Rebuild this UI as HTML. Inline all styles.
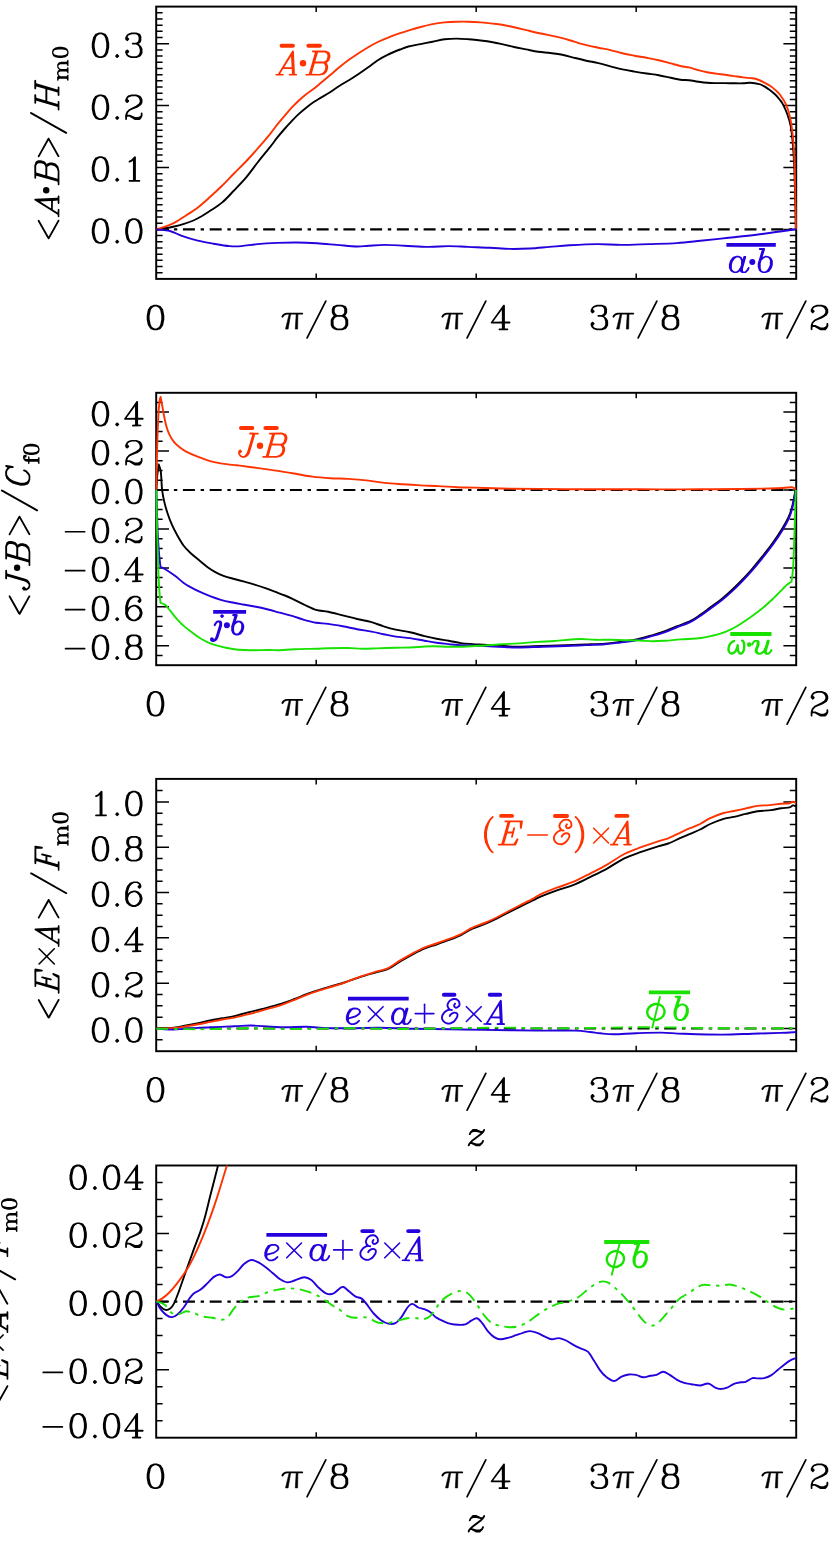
<!DOCTYPE html>
<html><head><meta charset="utf-8"><title>fig</title>
<style>html,body{margin:0;padding:0;background:#fff}svg{display:block}</style></head>
<body><svg width="830" height="1545" viewBox="0 0 830 1545" font-family="Liberation Serif, serif">
<rect width="830" height="1545" fill="#fff"/>
<defs>
<clipPath id="c1"><rect x="156.20" y="6.60" width="640.00" height="272.30"/></clipPath>
<clipPath id="c2"><rect x="156.20" y="392.80" width="640.00" height="272.40"/></clipPath>
<clipPath id="c3"><rect x="156.20" y="778.90" width="640.00" height="272.30"/></clipPath>
<clipPath id="c4"><rect x="156.20" y="1165.50" width="640.00" height="272.20"/></clipPath>
</defs>
<path d="M156.20,272.73h6.40M796.20,272.73h-6.40M156.20,266.54h6.40M796.20,266.54h-6.40M156.20,260.35h6.40M796.20,260.35h-6.40M156.20,254.16h6.40M796.20,254.16h-6.40M156.20,247.97h6.40M796.20,247.97h-6.40M156.20,241.78h6.40M796.20,241.78h-6.40M156.20,235.59h6.40M796.20,235.59h-6.40M156.20,229.40h12.80M796.20,229.40h-12.80M156.20,223.21h6.40M796.20,223.21h-6.40M156.20,217.02h6.40M796.20,217.02h-6.40M156.20,210.83h6.40M796.20,210.83h-6.40M156.20,204.64h6.40M796.20,204.64h-6.40M156.20,198.45h6.40M796.20,198.45h-6.40M156.20,192.26h6.40M796.20,192.26h-6.40M156.20,186.07h6.40M796.20,186.07h-6.40M156.20,179.88h6.40M796.20,179.88h-6.40M156.20,173.69h6.40M796.20,173.69h-6.40M156.20,167.50h12.80M796.20,167.50h-12.80M156.20,161.31h6.40M796.20,161.31h-6.40M156.20,155.12h6.40M796.20,155.12h-6.40M156.20,148.93h6.40M796.20,148.93h-6.40M156.20,142.74h6.40M796.20,142.74h-6.40M156.20,136.55h6.40M796.20,136.55h-6.40M156.20,130.36h6.40M796.20,130.36h-6.40M156.20,124.17h6.40M796.20,124.17h-6.40M156.20,117.98h6.40M796.20,117.98h-6.40M156.20,111.79h6.40M796.20,111.79h-6.40M156.20,105.60h12.80M796.20,105.60h-12.80M156.20,99.41h6.40M796.20,99.41h-6.40M156.20,93.22h6.40M796.20,93.22h-6.40M156.20,87.03h6.40M796.20,87.03h-6.40M156.20,80.84h6.40M796.20,80.84h-6.40M156.20,74.65h6.40M796.20,74.65h-6.40M156.20,68.46h6.40M796.20,68.46h-6.40M156.20,62.27h6.40M796.20,62.27h-6.40M156.20,56.08h6.40M796.20,56.08h-6.40M156.20,49.89h6.40M796.20,49.89h-6.40M156.20,43.70h12.80M796.20,43.70h-12.80M156.20,37.51h6.40M796.20,37.51h-6.40M156.20,31.32h6.40M796.20,31.32h-6.40M156.20,25.13h6.40M796.20,25.13h-6.40M156.20,18.94h6.40M796.20,18.94h-6.40M156.20,12.75h6.40M796.20,12.75h-6.40M316.20,6.60v5.5M316.20,278.90v-5.5M476.20,6.60v5.5M476.20,278.90v-5.5M636.20,6.60v5.5M636.20,278.90v-5.5" stroke="#000" stroke-width="1.5" fill="none"/>
<rect x="156.20" y="6.60" width="640.00" height="272.30" fill="none" stroke="#000" stroke-width="1.95"/>
<path d="M156.20,229.40H796.20" stroke="#000" stroke-width="2.1" stroke-dasharray="12 5.7 3.4 5.64" fill="none"/>
<path d="M156.50,229.50C157.92,229.30 162.07,228.80 165.00,228.30C167.93,227.80 170.93,227.25 174.10,226.50C177.27,225.75 180.78,224.80 184.00,223.80C187.22,222.80 190.40,221.80 193.40,220.50C196.40,219.20 199.20,217.62 202.00,216.00C204.80,214.38 206.82,213.07 210.20,210.80C213.58,208.53 218.33,205.78 222.30,202.40C226.27,199.02 229.98,194.72 234.00,190.50C238.02,186.28 242.40,181.85 246.40,177.10C250.40,172.35 254.07,167.00 258.00,162.00C261.93,157.00 266.80,151.15 270.00,147.10C273.20,143.05 274.78,140.72 277.20,137.70C279.62,134.68 282.08,131.77 284.50,129.00C286.92,126.23 289.30,123.62 291.70,121.10C294.10,118.58 296.48,116.13 298.90,113.90C301.32,111.67 303.78,109.63 306.20,107.70C308.62,105.77 311.00,103.93 313.40,102.30C315.80,100.67 317.90,99.53 320.60,97.90C323.30,96.27 326.48,94.48 329.60,92.50C332.72,90.52 336.08,88.05 339.30,86.00C342.52,83.95 345.68,82.20 348.90,80.20C352.12,78.20 355.38,76.15 358.60,74.00C361.82,71.85 365.00,69.60 368.20,67.30C371.40,65.00 374.58,62.28 377.80,60.20C381.02,58.12 383.80,56.58 387.50,54.80C391.20,53.02 396.52,50.88 400.00,49.50C403.48,48.12 404.98,47.40 408.40,46.50C411.82,45.60 416.48,44.90 420.50,44.10C424.52,43.30 428.48,42.50 432.50,41.70C436.52,40.90 440.58,39.82 444.60,39.30C448.62,38.78 452.58,38.60 456.60,38.60C460.62,38.60 464.68,38.98 468.70,39.30C472.72,39.62 476.68,40.02 480.70,40.50C484.72,40.98 489.25,41.60 492.80,42.20C496.35,42.80 498.45,43.30 502.00,44.10C505.55,44.90 510.08,46.12 514.10,47.00C518.12,47.88 522.08,48.60 526.10,49.40C530.12,50.20 534.18,51.20 538.20,51.80C542.22,52.40 546.18,52.52 550.20,53.00C554.22,53.48 558.28,53.90 562.30,54.70C566.32,55.50 570.28,56.80 574.30,57.80C578.32,58.80 582.38,59.82 586.40,60.70C590.42,61.58 594.38,62.17 598.40,63.10C602.42,64.03 606.48,65.25 610.50,66.30C614.52,67.35 618.48,68.52 622.50,69.40C626.52,70.28 630.58,70.92 634.60,71.60C638.62,72.28 642.58,72.90 646.60,73.50C650.62,74.10 654.68,74.48 658.70,75.20C662.72,75.92 667.08,77.03 670.70,77.80C674.32,78.57 677.35,79.40 680.40,79.80C683.45,80.20 686.05,79.88 689.00,80.20C691.95,80.52 695.08,81.27 698.10,81.70C701.12,82.13 704.10,82.57 707.10,82.80C710.10,83.03 713.08,83.05 716.10,83.10C719.12,83.15 722.18,83.07 725.20,83.10C728.22,83.13 731.18,83.27 734.20,83.30C737.22,83.33 740.60,83.38 743.30,83.30C746.00,83.22 747.73,82.65 750.40,82.80C753.07,82.95 757.03,83.63 759.30,84.20C761.57,84.77 762.50,85.40 764.00,86.20C765.50,87.00 766.97,88.07 768.30,89.00C769.63,89.93 770.77,90.80 772.00,91.80C773.23,92.80 774.43,93.72 775.70,95.00C776.97,96.28 778.37,97.90 779.60,99.50C780.83,101.10 781.77,102.02 783.10,104.60C784.43,107.18 786.35,111.52 787.60,115.00C788.85,118.48 789.73,120.78 790.60,125.50C791.47,130.22 792.18,136.37 792.80,143.30C793.42,150.23 793.88,157.43 794.30,167.10C794.72,176.77 795.05,190.93 795.30,201.30C795.55,211.67 795.72,224.63 795.80,229.30" fill="none" stroke="#000" stroke-width="1.90" stroke-linejoin="round" stroke-linecap="butt"/>
<path d="M156.50,229.50C157.92,229.02 162.07,227.70 165.00,226.60C167.93,225.50 170.60,224.75 174.10,222.90C177.60,221.05 181.98,218.12 186.00,215.50C190.02,212.88 194.20,210.28 198.20,207.20C202.20,204.12 205.98,200.62 210.00,197.00C214.02,193.38 218.30,189.42 222.30,185.50C226.30,181.58 229.98,177.58 234.00,173.50C238.02,169.42 242.40,165.22 246.40,161.00C250.40,156.78 254.07,152.68 258.00,148.20C261.93,143.72 266.80,138.02 270.00,134.10C273.20,130.18 274.78,127.72 277.20,124.70C279.62,121.68 282.08,118.83 284.50,116.00C286.92,113.17 289.30,110.28 291.70,107.70C294.10,105.12 296.48,102.73 298.90,100.50C301.32,98.27 303.90,96.12 306.20,94.30C308.50,92.48 310.40,91.38 312.70,89.60C315.00,87.82 317.18,85.93 320.00,83.60C322.82,81.27 326.38,78.32 329.60,75.60C332.82,72.88 336.08,69.93 339.30,67.30C342.52,64.67 345.68,62.15 348.90,59.80C352.12,57.45 355.38,55.30 358.60,53.20C361.82,51.10 365.00,49.07 368.20,47.20C371.40,45.33 374.58,43.57 377.80,42.00C381.02,40.43 383.80,39.27 387.50,37.80C391.20,36.33 396.52,34.40 400.00,33.20C403.48,32.00 404.98,31.63 408.40,30.60C411.82,29.57 416.48,28.08 420.50,27.00C424.52,25.92 428.48,24.87 432.50,24.10C436.52,23.33 440.58,22.80 444.60,22.40C448.62,22.00 452.58,21.82 456.60,21.70C460.62,21.58 464.68,21.58 468.70,21.70C472.72,21.82 476.68,22.08 480.70,22.40C484.72,22.72 489.25,23.20 492.80,23.60C496.35,24.00 498.45,24.20 502.00,24.80C505.55,25.40 510.08,26.32 514.10,27.20C518.12,28.08 522.08,29.13 526.10,30.10C530.12,31.07 534.18,32.12 538.20,33.00C542.22,33.88 546.18,34.55 550.20,35.40C554.22,36.25 558.28,37.05 562.30,38.10C566.32,39.15 570.28,40.53 574.30,41.70C578.32,42.87 582.38,44.10 586.40,45.10C590.42,46.10 594.38,46.87 598.40,47.70C602.42,48.53 606.48,49.17 610.50,50.10C614.52,51.03 618.48,52.37 622.50,53.30C626.52,54.23 630.58,54.95 634.60,55.70C638.62,56.45 642.58,57.05 646.60,57.80C650.62,58.55 654.68,59.27 658.70,60.20C662.72,61.13 666.68,62.35 670.70,63.40C674.72,64.45 679.75,65.83 682.80,66.50C685.85,67.17 686.45,66.80 689.00,67.40C691.55,68.00 695.08,69.28 698.10,70.10C701.12,70.92 704.10,71.72 707.10,72.30C710.10,72.88 713.08,73.18 716.10,73.60C719.12,74.02 722.18,74.38 725.20,74.80C728.22,75.22 731.18,75.67 734.20,76.10C737.22,76.53 740.28,77.03 743.30,77.40C746.32,77.77 749.90,77.95 752.30,78.30C754.70,78.65 755.78,78.83 757.70,79.50C759.62,80.17 761.68,81.22 763.80,82.30C765.92,83.38 768.40,84.65 770.40,86.00C772.40,87.35 774.17,88.90 775.80,90.40C777.43,91.90 778.48,92.63 780.20,95.00C781.92,97.37 784.50,101.02 786.10,104.60C787.70,108.18 788.80,112.28 789.80,116.50C790.80,120.72 791.42,124.43 792.10,129.90C792.78,135.37 793.47,143.10 793.90,149.30C794.33,155.50 794.47,159.67 794.70,167.10C794.93,174.53 795.10,183.53 795.30,193.90C795.50,204.27 795.80,223.40 795.90,229.30" fill="none" stroke="#ff3300" stroke-width="1.90" stroke-linejoin="round" stroke-linecap="butt"/>
<path d="M156.50,229.40C158.73,229.67 165.68,229.93 169.90,231.00C174.12,232.07 177.17,234.20 181.80,235.80C186.43,237.40 192.40,239.28 197.70,240.60C203.00,241.92 208.30,242.78 213.60,243.70C218.90,244.62 224.85,245.70 229.50,246.10C234.15,246.50 236.85,246.43 241.50,246.10C246.15,245.77 251.45,244.63 257.40,244.10C263.35,243.57 270.58,243.17 277.20,242.90C283.82,242.63 290.47,242.43 297.10,242.50C303.73,242.57 310.37,242.90 317.00,243.30C323.63,243.70 330.27,244.37 336.90,244.90C343.53,245.43 351.50,246.37 356.80,246.50C362.10,246.63 364.07,245.97 368.70,245.70C373.33,245.43 378.63,244.90 384.60,244.90C390.57,244.90 397.22,245.37 404.50,245.70C411.78,246.03 421.02,246.83 428.30,246.90C435.58,246.97 441.57,246.10 448.20,246.10C454.83,246.10 461.15,246.63 468.10,246.90C475.05,247.17 482.95,247.37 489.90,247.70C496.85,248.03 503.18,248.77 509.80,248.90C516.42,249.03 522.98,248.83 529.60,248.50C536.22,248.17 542.87,247.43 549.50,246.90C556.13,246.37 561.45,245.77 569.40,245.30C577.35,244.83 588.58,244.17 597.20,244.10C605.82,244.03 612.48,244.90 621.10,244.90C629.72,244.90 639.62,244.40 648.90,244.10C658.18,243.80 668.18,243.65 676.80,243.10C685.42,242.55 691.98,241.68 700.60,240.80C709.22,239.92 719.22,238.82 728.50,237.80C737.78,236.78 747.70,235.75 756.30,234.70C764.90,233.65 773.48,232.40 780.10,231.50C786.72,230.60 793.35,229.67 796.00,229.30" fill="none" stroke="#2600dd" stroke-width="1.90" stroke-linejoin="round" stroke-linecap="butt"/>
<path d="M116.4,239.7 114.8,241.4 114.8,242.1 116.3,243.6 117.0,243.7 118.8,242.1 118.8,241.4 117.2,239.7ZM132.2,218.2 128.4,219.7 126.2,223.1 124.9,229.0 124.9,233.0 126.2,238.9 128.4,242.2 129.2,242.7 132.2,243.7 135.3,243.7 138.9,242.4 141.4,238.6 142.5,233.1 142.5,228.9 141.3,223.1 139.0,219.7 135.3,218.2ZM132.9,220.0 134.9,220.1 136.4,220.9 137.5,222.0 138.7,224.4 139.7,229.5 139.7,232.5 138.4,238.4 137.7,239.9 136.4,241.1 134.7,242.0 132.5,241.9 131.0,241.1 129.9,240.0 128.9,238.0 127.9,233.1 127.9,228.9 128.9,224.0 129.9,222.0 130.9,221.0ZM98.3,218.2 94.5,219.7 92.3,223.1 91.0,228.9 91.0,233.1 92.2,238.6 94.4,242.1 95.3,242.7 98.3,243.7 101.4,243.7 104.4,242.7 105.2,242.2 107.4,238.9 108.7,233.0 108.7,229.0 107.4,223.1 105.2,219.7 104.7,219.4 101.3,218.2ZM99.0,220.0 100.7,220.0 102.7,221.0 103.7,222.0 104.7,224.0 105.7,228.9 105.7,233.1 104.7,238.0 103.7,240.0 102.5,241.1 100.7,242.0 98.9,242.0 97.2,241.1 95.9,239.9 94.9,237.6 93.9,232.5 93.9,229.5 95.2,223.6 96.0,222.0 97.2,220.9Z" fill="#000" fill-rule="evenodd" transform="translate(142.60,0) scale(0.985,1) translate(-142.60,0)"/>
<path d="M116.4,177.8 114.8,179.5 114.8,180.2 116.3,181.7 117.0,181.8 118.8,180.2 118.8,179.5 117.2,177.8ZM135.0,156.3 134.2,156.6 131.0,159.8 128.9,160.8 128.3,161.7 128.7,162.5 129.7,162.6 131.9,161.5 132.7,160.7 132.8,160.8 132.8,180.0 128.9,180.1 128.3,180.8 128.9,181.8 139.7,181.8 140.3,181.1 140.2,180.5 139.7,180.1 135.8,180.0 135.8,157.1ZM98.3,156.3 94.5,157.8 92.3,161.2 91.0,167.0 91.0,171.2 92.2,176.7 94.4,180.2 95.3,180.8 98.3,181.8 101.4,181.8 104.4,180.8 105.2,180.3 107.4,177.0 108.7,171.1 108.7,167.1 107.4,161.2 105.2,157.8 104.7,157.5 101.3,156.3ZM99.0,158.1 100.7,158.1 102.7,159.1 103.7,160.1 104.7,162.1 105.7,167.0 105.7,171.2 104.7,176.1 103.7,178.1 102.5,179.2 100.7,180.1 98.9,180.1 97.2,179.2 95.9,178.0 94.9,175.7 93.9,170.6 93.9,167.6 95.2,161.7 96.0,160.1 97.2,159.0Z" fill="#000" fill-rule="evenodd" transform="translate(142.60,0) scale(0.985,1) translate(-142.60,0)"/>
<path d="M116.4,115.9 114.8,117.6 114.8,118.3 116.3,119.8 117.0,119.9 118.8,118.3 118.8,117.6 117.2,115.9ZM127.8,95.6 126.3,96.9 124.9,99.7 125.0,101.4 126.5,102.9 126.9,103.1 127.5,102.8 128.9,101.4 129.0,100.9 128.8,100.3 127.3,98.9 127.7,98.2 128.7,97.2 131.8,96.2 135.7,96.2 137.5,97.1 138.8,98.3 139.5,99.8 139.7,101.8 138.8,103.6 135.7,105.8 128.8,109.2 126.2,111.8 124.9,115.3 125.0,119.6 125.5,119.9 126.0,119.9 126.7,119.4 126.8,117.1 127.2,116.7 128.9,116.6 134.7,119.9 139.7,119.9 141.4,118.3 142.5,116.1 142.5,113.2 142.0,112.6 141.3,112.6 140.8,113.1 140.7,115.4 139.8,116.2 138.0,117.1 135.0,117.1 129.7,114.8 127.3,114.8 127.2,114.4 127.8,112.7 129.7,110.8 132.4,109.4 137.7,107.4 140.8,105.3 141.4,104.7 142.5,102.4 142.5,99.6 141.3,97.1 140.0,95.8 136.4,94.4 131.2,94.4ZM98.3,94.4 94.5,95.9 92.3,99.3 91.0,105.1 91.0,109.3 92.2,114.8 94.4,118.3 95.3,118.9 98.3,119.9 101.4,119.9 104.4,118.9 105.2,118.4 107.4,115.1 108.7,109.2 108.7,105.2 107.4,99.3 105.2,95.9 104.7,95.6 101.3,94.4ZM99.0,96.2 100.7,96.2 102.7,97.2 103.7,98.2 104.7,100.2 105.7,105.1 105.7,109.3 104.7,114.2 103.7,116.2 102.5,117.3 100.7,118.2 98.9,118.2 97.2,117.3 95.9,116.1 94.9,113.8 93.9,108.7 93.9,105.7 95.2,99.8 96.0,98.2 97.2,97.1Z" fill="#000" fill-rule="evenodd" transform="translate(142.60,0) scale(0.985,1) translate(-142.60,0)"/>
<path d="M116.4,54.0 114.8,55.7 114.8,56.4 116.3,57.9 117.0,58.0 118.8,56.4 118.8,55.7 117.2,54.0ZM131.2,32.5 127.8,33.7 126.3,35.0 124.9,37.8 125.0,39.5 126.9,41.2 127.5,40.9 128.9,39.5 129.0,39.0 128.8,38.4 127.3,37.0 127.7,36.3 128.7,35.3 131.8,34.3 135.7,34.3 137.3,35.0 137.8,35.5 138.5,37.2 138.5,39.9 137.7,41.7 135.9,42.7 132.5,42.7 131.8,43.2 131.7,43.7 131.8,44.0 132.5,44.5 135.9,44.5 137.7,45.4 138.7,46.4 139.7,49.5 139.7,52.3 138.4,54.7 137.5,55.4 135.8,56.3 131.7,56.3 128.7,55.3 127.5,54.2 127.3,53.5 128.8,52.2 129.0,51.5 128.9,51.0 127.3,49.5 126.4,49.7 125.0,51.0 124.9,52.8 126.2,55.4 128.0,57.0 131.0,58.0 136.4,58.0 139.9,56.8 141.4,55.3 142.5,53.0 142.5,48.9 141.2,46.3 138.5,43.8 139.8,43.3 140.3,42.8 141.3,40.8 141.4,36.7 140.2,34.0 139.7,33.7 136.4,32.5ZM98.3,32.5 94.5,34.0 92.3,37.4 91.0,43.2 91.0,47.4 92.2,52.9 94.4,56.4 95.3,57.0 98.3,58.0 101.4,58.0 104.4,57.0 105.2,56.5 107.4,53.2 108.7,47.3 108.7,43.3 107.4,37.4 105.2,34.0 104.7,33.7 101.3,32.5ZM99.0,34.3 100.7,34.3 102.7,35.3 103.7,36.3 104.7,38.3 105.7,43.2 105.7,47.4 104.7,52.3 103.7,54.3 102.5,55.4 100.7,56.3 98.9,56.3 97.2,55.4 95.9,54.2 94.9,51.9 93.9,46.8 93.9,43.8 95.2,37.9 96.0,36.3 97.2,35.2Z" fill="#000" fill-rule="evenodd" transform="translate(142.60,0) scale(0.985,1) translate(-142.60,0)"/>
<path d="M153.9,304.7 150.2,306.2 147.9,309.6 146.7,315.4 146.7,319.6 147.8,325.1 150.1,328.6 150.9,329.2 153.9,330.2 157.1,330.2 160.1,329.2 160.8,328.7 163.1,325.4 164.3,319.5 164.3,315.5 163.1,309.6 160.8,306.2 160.3,305.9 156.9,304.7ZM154.7,306.5 156.3,306.5 158.3,307.5 159.3,308.5 160.3,310.5 161.3,315.4 161.3,319.6 160.3,324.5 159.3,326.5 158.2,327.6 156.3,328.5 154.6,328.5 152.8,327.6 151.6,326.4 150.6,324.1 149.6,319.0 149.6,316.0 150.8,310.1 151.7,308.5 152.8,307.4Z" fill="#000" fill-rule="evenodd"/>
<path d="M282.40,316.70 c0.9,-2 2.4,-3.1 4.6,-3.1 h15.2" fill="none" stroke="#000" stroke-width="1.9" stroke-linecap="round"/><path d="M289.20,313.90 l1.5,0 l-2.6,15.2 l-2.6,0 z" fill="#000" stroke="#000" stroke-width="0.6" stroke-linejoin="round"/><path d="M296.20,313.90 l1.7,0 l-0.3,15.2 l-2.3,0 z" fill="#000" stroke="#000" stroke-width="0.6" stroke-linejoin="round"/>
<path d="M325.80,301.10L307.10,337.90" stroke="#000" stroke-width="1.75" stroke-linecap="round" fill="none"/>
<path d="M336.8,304.7 333.0,306.2 331.8,308.9 331.8,312.6 332.9,315.0 334.0,315.9 333.4,316.1 332.0,317.4 330.7,320.0 330.7,325.2 331.8,327.5 333.8,329.2 336.8,330.2 342.2,330.2 345.8,328.9 347.0,327.6 348.3,325.0 348.2,319.9 347.0,317.6 345.5,316.1 344.9,315.9 345.9,315.1 347.2,312.5 347.2,308.9 346.0,306.5 345.4,305.9 342.0,304.7ZM337.3,316.7 341.7,316.7 343.4,317.6 344.4,318.6 345.3,320.4 345.3,324.7 344.4,326.5 343.3,327.6 341.8,328.4 337.4,328.5 335.7,327.6 334.4,326.4 333.7,324.9 333.5,320.6 334.5,318.6 335.5,317.6ZM335.4,307.7 335.9,307.2 337.5,306.5 341.4,306.5 343.0,307.2 344.2,309.1 344.2,312.4 343.4,313.9 341.7,314.9 337.3,314.9 335.8,314.1 334.7,312.1 334.7,309.4Z" fill="#000" fill-rule="evenodd"/>
<path d="M442.40,316.70 c0.9,-2 2.4,-3.1 4.6,-3.1 h15.2" fill="none" stroke="#000" stroke-width="1.9" stroke-linecap="round"/><path d="M449.20,313.90 l1.5,0 l-2.6,15.2 l-2.6,0 z" fill="#000" stroke="#000" stroke-width="0.6" stroke-linejoin="round"/><path d="M456.20,313.90 l1.7,0 l-0.3,15.2 l-2.3,0 z" fill="#000" stroke="#000" stroke-width="0.6" stroke-linejoin="round"/>
<path d="M485.80,301.10L467.10,337.90" stroke="#000" stroke-width="1.75" stroke-linecap="round" fill="none"/>
<path d="M504.3,304.7 503.7,304.7 503.2,305.1 490.7,322.4 490.8,323.1 491.4,323.5 501.8,323.5 501.9,328.4 499.2,328.5 498.8,328.7 498.5,329.5 499.2,330.2 507.7,330.2 508.3,329.5 508.0,328.7 507.7,328.5 504.9,328.4 504.9,323.6 509.8,323.5 510.5,322.7 510.4,322.1 509.7,321.6 504.9,321.6 504.9,305.5ZM501.8,310.1 501.9,321.6 493.5,321.7 493.4,321.5Z" fill="#000" fill-rule="evenodd"/>
<path d="M596.9,304.7 593.5,305.9 591.9,307.4 590.6,309.9 590.6,311.5 591.7,312.9 592.6,313.4 593.2,313.1 594.5,311.9 594.6,310.9 593.0,309.2 593.2,308.6 594.4,307.5 597.5,306.5 601.4,306.5 603.0,307.2 604.1,309.1 604.1,312.4 603.4,313.9 601.6,314.9 598.2,314.9 597.5,315.4 597.4,315.9 597.5,316.2 598.2,316.7 601.6,316.7 603.4,317.6 604.2,318.5 605.2,321.4 605.2,324.7 604.4,326.5 603.2,327.6 601.4,328.5 597.4,328.5 594.1,327.4 593.0,325.7 594.6,324.1 594.6,323.4 593.0,321.7 592.2,321.7 590.7,323.2 590.6,325.2 591.7,327.5 593.7,329.2 596.7,330.2 602.1,330.2 605.7,328.9 607.0,327.6 608.2,325.0 608.1,321.0 607.0,318.7 604.2,316.0 605.9,315.1 607.0,312.9 607.1,308.9 606.0,306.5 605.4,305.9 602.0,304.7Z" fill="#000" fill-rule="evenodd"/>
<path d="M613.45,316.70 c0.9,-2 2.4,-3.1 4.6,-3.1 h15.2" fill="none" stroke="#000" stroke-width="1.9" stroke-linecap="round"/><path d="M620.25,313.90 l1.5,0 l-2.6,15.2 l-2.6,0 z" fill="#000" stroke="#000" stroke-width="0.6" stroke-linejoin="round"/><path d="M627.25,313.90 l1.7,0 l-0.3,15.2 l-2.3,0 z" fill="#000" stroke="#000" stroke-width="0.6" stroke-linejoin="round"/>
<path d="M656.85,301.10L638.15,337.90" stroke="#000" stroke-width="1.75" stroke-linecap="round" fill="none"/>
<path d="M667.8,304.7 664.1,306.2 662.8,308.9 662.8,312.6 664.0,315.0 665.1,315.9 664.5,316.1 663.1,317.4 661.7,320.0 661.7,325.2 662.8,327.5 664.8,329.2 667.8,330.2 673.2,330.2 676.8,328.9 678.1,327.6 679.3,325.0 679.2,319.9 678.1,317.6 676.6,316.1 676.0,315.9 677.0,315.1 678.2,312.5 678.2,308.9 677.1,306.5 676.5,305.9 673.1,304.7ZM668.3,316.7 672.7,316.7 674.5,317.6 675.5,318.6 676.3,320.4 676.3,324.7 675.5,326.5 674.3,327.6 672.8,328.4 668.5,328.5 666.7,327.6 665.5,326.4 664.7,324.9 664.6,320.6 665.6,318.6 666.6,317.6ZM666.5,307.7 667.0,307.2 668.6,306.5 672.5,306.5 674.1,307.2 675.2,309.1 675.2,312.4 674.5,313.9 672.7,314.9 668.3,314.9 666.8,314.1 665.7,312.1 665.7,309.4Z" fill="#000" fill-rule="evenodd"/>
<path d="M762.40,316.70 c0.9,-2 2.4,-3.1 4.6,-3.1 h15.2" fill="none" stroke="#000" stroke-width="1.9" stroke-linecap="round"/><path d="M769.20,313.90 l1.5,0 l-2.6,15.2 l-2.6,0 z" fill="#000" stroke="#000" stroke-width="0.6" stroke-linejoin="round"/><path d="M776.20,313.90 l1.7,0 l-0.3,15.2 l-2.3,0 z" fill="#000" stroke="#000" stroke-width="0.6" stroke-linejoin="round"/>
<path d="M805.80,301.10L787.10,337.90" stroke="#000" stroke-width="1.75" stroke-linecap="round" fill="none"/>
<path d="M813.5,305.9 811.9,307.4 810.7,309.9 810.7,311.5 812.3,313.2 812.7,313.4 813.3,313.1 814.7,311.6 814.7,310.9 813.0,309.2 813.3,308.6 814.4,307.5 817.5,306.5 821.4,306.5 823.4,307.5 824.4,308.5 825.3,310.2 825.3,312.4 824.0,314.4 821.2,316.2 814.5,319.5 811.8,322.2 810.7,325.6 810.7,329.6 811.3,330.2 812.0,330.1 812.4,329.7 812.4,327.5 813.0,326.9 814.7,326.9 820.3,330.2 825.4,330.2 827.0,328.7 828.3,326.2 828.3,323.6 827.7,322.9 827.0,322.9 826.5,323.4 826.4,325.6 825.5,326.5 823.7,327.4 820.8,327.4 815.4,325.1 813.0,325.1 812.9,324.6 813.4,323.1 815.5,321.0 822.8,318.0 826.5,315.6 827.0,315.1 828.3,312.5 828.2,309.6 826.9,307.2 825.8,306.1 822.0,304.7 816.9,304.7Z" fill="#000" fill-rule="evenodd"/>
<path d="M156.20,655.50h6.40M796.20,655.50h-6.40M156.20,645.76h12.80M796.20,645.76h-12.80M156.20,636.02h6.40M796.20,636.02h-6.40M156.20,626.29h6.40M796.20,626.29h-6.40M156.20,616.55h6.40M796.20,616.55h-6.40M156.20,606.82h12.80M796.20,606.82h-12.80M156.20,597.09h6.40M796.20,597.09h-6.40M156.20,587.35h6.40M796.20,587.35h-6.40M156.20,577.62h6.40M796.20,577.62h-6.40M156.20,567.88h12.80M796.20,567.88h-12.80M156.20,558.14h6.40M796.20,558.14h-6.40M156.20,548.41h6.40M796.20,548.41h-6.40M156.20,538.67h6.40M796.20,538.67h-6.40M156.20,528.94h12.80M796.20,528.94h-12.80M156.20,519.21h6.40M796.20,519.21h-6.40M156.20,509.47h6.40M796.20,509.47h-6.40M156.20,499.74h6.40M796.20,499.74h-6.40M156.20,490.00h12.80M796.20,490.00h-12.80M156.20,480.26h6.40M796.20,480.26h-6.40M156.20,470.53h6.40M796.20,470.53h-6.40M156.20,460.80h6.40M796.20,460.80h-6.40M156.20,451.06h12.80M796.20,451.06h-12.80M156.20,441.32h6.40M796.20,441.32h-6.40M156.20,431.59h6.40M796.20,431.59h-6.40M156.20,421.86h6.40M796.20,421.86h-6.40M156.20,412.12h12.80M796.20,412.12h-12.80M156.20,402.38h6.40M796.20,402.38h-6.40M316.20,392.80v5.5M316.20,665.20v-5.5M476.20,392.80v5.5M476.20,665.20v-5.5M636.20,392.80v5.5M636.20,665.20v-5.5" stroke="#000" stroke-width="1.5" fill="none"/>
<rect x="156.20" y="392.80" width="640.00" height="272.40" fill="none" stroke="#000" stroke-width="1.95"/>
<path d="M156.20,490.00H796.20" stroke="#000" stroke-width="2.1" stroke-dasharray="12 5.7 3.4 5.64" fill="none"/>
<path d="M156.30,489.80C156.47,487.33 156.90,479.22 157.30,475.00C157.70,470.78 158.47,466.25 158.70,464.50C159.05,465.70 160.23,467.48 160.80,471.70C161.37,475.92 161.52,484.77 162.10,489.80C162.68,494.83 163.37,497.92 164.30,501.90C165.23,505.88 166.43,509.90 167.70,513.70C168.97,517.50 170.35,521.18 171.90,524.70C173.45,528.22 175.03,531.28 177.00,534.80C178.97,538.32 181.45,542.77 183.70,545.80C185.95,548.83 187.97,550.62 190.50,553.00C193.03,555.38 196.10,557.78 198.90,560.10C201.70,562.42 204.48,564.85 207.30,566.90C210.12,568.95 212.98,570.87 215.80,572.40C218.62,573.93 221.12,575.00 224.20,576.10C227.28,577.20 230.93,578.07 234.30,579.00C237.67,579.93 241.02,580.77 244.40,581.70C247.78,582.63 251.22,583.57 254.60,584.60C257.98,585.63 261.33,586.72 264.70,587.90C268.07,589.08 271.43,590.43 274.80,591.70C278.17,592.97 282.03,594.35 284.90,595.50C287.77,596.65 288.80,597.08 292.00,598.60C295.20,600.12 300.08,602.72 304.10,604.60C308.12,606.48 312.08,608.70 316.10,609.90C320.12,611.10 323.77,610.88 328.20,611.80C332.63,612.72 337.88,614.20 342.70,615.40C347.52,616.60 352.28,617.87 357.10,619.00C361.92,620.13 367.18,620.98 371.60,622.20C376.02,623.42 379.58,625.07 383.60,626.30C387.62,627.53 391.28,628.60 395.70,629.60C400.12,630.60 405.28,631.22 410.10,632.30C414.92,633.38 420.18,635.02 424.60,636.10C429.02,637.18 432.58,638.03 436.60,638.80C440.62,639.57 444.68,639.98 448.70,640.70C452.72,641.42 456.68,642.53 460.70,643.10C464.72,643.67 468.83,643.82 472.80,644.10C476.77,644.38 480.15,644.52 484.50,644.80C488.85,645.08 493.28,645.48 498.90,645.80C504.52,646.12 510.97,646.67 518.20,646.70C525.43,646.73 534.27,646.23 542.30,646.00C550.33,645.77 559.17,645.55 566.40,645.30C573.63,645.05 579.28,644.78 585.70,644.50C592.12,644.22 599.28,644.02 604.90,643.60C610.52,643.18 614.17,642.68 619.40,642.00C624.63,641.32 631.08,640.55 636.30,639.50C641.52,638.45 646.28,636.95 650.70,635.70C655.12,634.45 658.52,633.53 662.80,632.00C667.08,630.47 671.75,628.35 676.40,626.50C681.05,624.65 686.67,622.88 690.70,620.90C694.73,618.92 697.27,616.90 700.60,614.60C703.93,612.30 707.33,609.58 710.70,607.10C714.07,604.62 717.40,602.43 720.80,599.70C724.20,596.97 727.68,593.87 731.10,590.70C734.52,587.53 737.88,584.23 741.30,580.70C744.72,577.17 748.18,573.42 751.60,569.50C755.02,565.58 758.38,561.47 761.80,557.20C765.22,552.93 768.68,548.68 772.10,543.90C775.52,539.12 779.58,532.92 782.30,528.50C785.02,524.08 786.85,520.70 788.40,517.40C789.95,514.10 790.68,511.82 791.60,508.70C792.52,505.58 793.25,501.83 793.90,498.70C794.55,495.57 795.23,491.37 795.50,489.90" fill="none" stroke="#000" stroke-width="1.90" stroke-linejoin="round" stroke-linecap="butt"/>
<path d="M156.30,489.80C156.45,482.37 156.85,457.65 157.20,445.20C157.55,432.75 158.00,422.52 158.40,415.10C158.80,407.68 159.23,403.72 159.60,400.70C159.97,397.68 160.43,397.62 160.60,397.00C160.83,398.22 161.45,401.28 162.00,404.30C162.55,407.32 163.18,411.48 163.90,415.10C164.62,418.72 165.40,422.78 166.30,426.00C167.20,429.22 168.00,431.70 169.30,434.40C170.60,437.10 172.30,439.98 174.10,442.20C175.90,444.42 178.10,446.13 180.10,447.70C182.10,449.27 183.08,450.07 186.10,451.60C189.12,453.13 194.18,455.32 198.20,456.90C202.22,458.48 206.18,459.98 210.20,461.10C214.22,462.22 218.28,462.93 222.30,463.60C226.32,464.27 231.35,464.77 234.30,465.10C237.25,465.43 236.03,465.10 240.00,465.60C243.97,466.10 252.08,467.27 258.10,468.10C264.12,468.93 270.08,469.70 276.10,470.60C282.12,471.50 288.17,472.50 294.20,473.50C300.23,474.50 306.27,475.82 312.30,476.60C318.33,477.38 324.38,477.82 330.40,478.20C336.42,478.58 342.38,478.53 348.40,478.90C354.42,479.27 360.47,479.73 366.50,480.40C372.53,481.07 378.58,482.25 384.60,482.90C390.62,483.55 396.58,483.88 402.60,484.30C408.62,484.72 414.67,485.10 420.70,485.40C426.73,485.70 432.77,485.80 438.80,486.10C444.83,486.40 450.88,486.95 456.90,487.20C462.92,487.45 468.88,487.42 474.90,487.60C480.92,487.78 486.97,488.12 493.00,488.30C499.03,488.48 503.27,488.60 511.10,488.70C518.93,488.80 528.52,488.80 540.00,488.90C551.48,489.00 566.67,489.25 580.00,489.30C593.33,489.35 606.67,489.18 620.00,489.20C633.33,489.22 646.67,489.38 660.00,489.40C673.33,489.42 686.67,489.37 700.00,489.30C713.33,489.23 728.33,489.13 740.00,489.00C751.67,488.87 762.85,488.67 770.00,488.50C777.15,488.33 779.40,488.22 782.90,488.00C786.40,487.78 789.23,487.27 791.00,487.20C792.77,487.13 792.77,487.15 793.50,487.60C794.23,488.05 795.08,489.52 795.40,489.90" fill="none" stroke="#ff3300" stroke-width="1.90" stroke-linejoin="round" stroke-linecap="butt"/>
<path d="M156.30,489.80C156.52,496.60 157.18,520.43 157.60,530.60C158.02,540.77 158.32,544.75 158.80,550.80C159.28,556.85 160.22,564.22 160.50,566.90C161.57,567.45 164.43,568.67 166.90,570.20C169.37,571.73 172.50,573.98 175.30,576.10C178.10,578.22 181.17,581.07 183.70,582.90C186.23,584.73 187.68,585.55 190.50,587.10C193.32,588.65 197.23,590.65 200.60,592.20C203.97,593.75 207.33,595.13 210.70,596.40C214.07,597.67 217.42,598.82 220.80,599.80C224.18,600.78 227.33,601.52 231.00,602.30C234.67,603.08 238.87,603.80 242.80,604.50C246.73,605.20 250.38,605.67 254.60,606.50C258.82,607.33 263.88,608.47 268.10,609.50C272.32,610.53 275.92,611.63 279.90,612.70C283.88,613.77 287.97,614.72 292.00,615.90C296.03,617.08 300.08,618.67 304.10,619.80C308.12,620.93 312.08,622.02 316.10,622.70C320.12,623.38 323.77,623.30 328.20,623.90C332.63,624.50 337.88,625.42 342.70,626.30C347.52,627.18 352.28,628.32 357.10,629.20C361.92,630.08 367.18,630.77 371.60,631.60C376.02,632.43 379.58,633.37 383.60,634.20C387.62,635.03 391.28,635.95 395.70,636.60C400.12,637.25 405.28,637.42 410.10,638.10C414.92,638.78 420.18,639.93 424.60,640.70C429.02,641.47 432.58,642.13 436.60,642.70C440.62,643.27 444.68,643.67 448.70,644.10C452.72,644.53 456.68,645.07 460.70,645.30C464.72,645.53 468.83,645.38 472.80,645.50C476.77,645.62 480.15,645.80 484.50,646.00C488.85,646.20 493.28,646.45 498.90,646.70C504.52,646.95 510.97,647.50 518.20,647.50C525.43,647.50 534.27,646.95 542.30,646.70C550.33,646.45 559.17,646.27 566.40,646.00C573.63,645.73 579.28,645.38 585.70,645.10C592.12,644.82 599.28,644.70 604.90,644.30C610.52,643.90 614.17,643.38 619.40,642.70C624.63,642.02 631.08,641.25 636.30,640.20C641.52,639.15 646.28,637.63 650.70,636.40C655.12,635.17 658.52,634.28 662.80,632.80C667.08,631.32 671.75,629.32 676.40,627.50C681.05,625.68 686.60,623.92 690.70,621.90C694.80,619.88 697.58,617.73 701.00,615.40C704.42,613.07 707.80,610.38 711.20,607.90C714.60,605.42 717.98,603.22 721.40,600.50C724.82,597.78 728.28,594.75 731.70,591.60C735.12,588.45 738.48,585.13 741.90,581.60C745.32,578.07 748.78,574.32 752.20,570.40C755.62,566.48 758.98,562.37 762.40,558.10C765.82,553.83 769.28,549.58 772.70,544.80C776.12,540.02 780.18,533.85 782.90,529.40C785.62,524.95 787.47,521.52 789.00,518.10C790.53,514.68 791.23,512.13 792.10,508.90C792.97,505.67 793.62,501.87 794.20,498.70C794.78,495.53 795.37,491.37 795.60,489.90" fill="none" stroke="#2600dd" stroke-width="1.90" stroke-linejoin="round" stroke-linecap="butt"/>
<path d="M156.30,489.80C156.43,496.60 156.80,518.18 157.10,530.60C157.40,543.02 157.73,554.47 158.10,564.30C158.47,574.13 158.90,583.18 159.30,589.60C159.70,596.02 160.30,600.60 160.50,602.80C161.28,603.13 163.58,603.48 165.20,604.80C166.82,606.12 168.23,608.32 170.20,610.70C172.17,613.08 174.75,616.57 177.00,619.10C179.25,621.63 181.17,623.65 183.70,625.90C186.23,628.15 189.38,630.50 192.20,632.60C195.02,634.70 197.80,636.80 200.60,638.50C203.40,640.20 206.18,641.62 209.00,642.80C211.82,643.98 214.68,644.77 217.50,645.60C220.32,646.43 223.10,647.20 225.90,647.80C228.70,648.40 231.22,648.83 234.30,649.20C237.38,649.57 241.02,649.82 244.40,650.00C247.78,650.18 250.65,650.30 254.60,650.30C258.55,650.30 263.88,650.02 268.10,650.00C272.32,649.98 275.50,650.33 279.90,650.20C284.30,650.07 288.47,649.45 294.50,649.20C300.53,648.95 310.48,648.87 316.10,648.70C321.72,648.53 322.97,648.32 328.20,648.20C333.43,648.08 341.88,647.92 347.50,648.00C353.12,648.08 357.08,648.63 361.90,648.70C366.72,648.77 370.77,648.57 376.40,648.40C382.03,648.23 390.08,647.85 395.70,647.70C401.32,647.55 405.28,647.70 410.10,647.50C414.92,647.30 420.58,646.70 424.60,646.50C428.62,646.30 430.18,646.27 434.20,646.30C438.22,646.33 443.88,646.63 448.70,646.70C453.52,646.77 458.72,646.82 463.10,646.70C467.48,646.58 471.43,646.20 475.00,646.00C478.57,645.80 480.12,645.78 484.50,645.50C488.88,645.22 495.68,644.65 501.30,644.30C506.92,643.95 512.17,643.80 518.20,643.40C524.23,643.00 531.48,642.30 537.50,641.90C543.52,641.50 548.68,641.40 554.30,641.00C559.92,640.60 566.78,639.83 571.20,639.50C575.62,639.17 576.78,638.95 580.80,639.00C584.82,639.05 590.47,639.67 595.30,639.80C600.13,639.93 604.98,639.73 609.80,639.80C614.62,639.87 619.38,640.08 624.20,640.20C629.02,640.32 633.88,640.33 638.70,640.50C643.52,640.67 648.72,641.17 653.10,641.20C657.48,641.23 660.43,641.00 665.00,640.70C669.57,640.40 674.50,639.85 680.50,639.40C686.50,638.95 695.53,638.65 701.00,638.00C706.47,637.35 709.22,636.53 713.30,635.50C717.38,634.47 721.42,633.43 725.50,631.80C729.58,630.17 733.70,628.08 737.80,625.70C741.90,623.32 746.00,620.40 750.10,617.50C754.20,614.60 758.63,611.38 762.40,608.30C766.17,605.22 769.28,602.25 772.70,599.00C776.12,595.75 780.52,591.18 782.90,588.80C785.28,586.42 785.57,585.90 787.00,584.70C788.43,583.50 790.75,582.12 791.50,581.60C791.77,579.38 792.65,574.95 793.10,568.30C793.55,561.65 793.85,551.25 794.20,541.70C794.55,532.15 794.93,519.63 795.20,511.00C795.47,502.37 795.70,493.42 795.80,489.90" fill="none" stroke="#17e200" stroke-width="1.90" stroke-linejoin="round" stroke-linecap="butt"/>
<path d="M116.4,422.5 114.8,424.1 114.8,424.8 116.3,426.3 117.0,426.5 118.8,424.8 118.8,424.1 117.2,422.5ZM137.4,401.0 136.9,401.0 136.2,401.6 123.8,418.7 123.9,419.2 124.5,419.7 134.9,419.7 135.0,424.6 132.3,424.7 131.7,425.6 132.3,426.5 141.0,426.3 141.4,425.8 141.4,425.3 141.0,424.8 138.0,424.6 138.0,419.8 142.9,419.7 143.7,419.1 143.5,418.3 142.8,417.8 138.0,417.8 138.0,401.6ZM134.9,406.5 135.0,417.8 126.7,418.0 126.7,417.6ZM98.3,401.0 94.5,402.5 92.3,405.8 91.0,411.6 91.0,415.8 92.2,421.3 94.4,424.8 95.3,425.5 98.3,426.5 101.4,426.5 104.4,425.5 105.2,425.0 107.4,421.6 108.7,415.7 108.7,411.7 107.4,405.8 105.2,402.5 104.7,402.1 101.3,401.0ZM99.0,402.7 100.7,402.7 102.7,403.7 103.7,404.7 104.7,406.7 105.7,411.6 105.7,415.8 104.7,420.7 103.7,422.7 102.5,423.8 100.7,424.7 98.9,424.7 97.2,423.8 95.9,422.6 94.9,420.3 93.9,415.2 93.9,412.2 95.2,406.3 96.0,404.7 97.2,403.6Z" fill="#000" fill-rule="evenodd" transform="translate(142.60,0) scale(0.985,1) translate(-142.60,0)"/>
<path d="M116.4,461.4 114.8,463.0 114.8,463.8 116.3,465.3 117.0,465.4 118.8,463.8 118.8,463.0 117.2,461.4ZM127.8,441.0 126.3,442.4 124.9,445.1 125.0,446.9 126.5,448.4 126.9,448.5 127.5,448.3 128.9,446.9 129.0,446.4 128.8,445.8 127.3,444.4 127.7,443.6 128.7,442.6 131.8,441.6 135.7,441.6 137.5,442.5 138.8,443.8 139.5,445.3 139.7,447.3 138.8,449.0 135.7,451.3 128.8,454.6 126.2,457.3 124.9,460.8 125.0,465.0 125.5,465.4 126.0,465.4 126.7,464.9 126.8,462.5 127.2,462.1 128.9,462.0 134.7,465.4 139.7,465.4 141.4,463.8 142.5,461.5 142.5,458.6 142.0,458.0 141.3,458.0 140.8,458.5 140.7,460.9 139.8,461.6 138.0,462.5 135.0,462.5 129.7,460.3 127.3,460.3 127.2,459.9 127.8,458.1 129.7,456.3 132.4,454.9 137.7,452.9 140.8,450.8 141.4,450.1 142.5,447.9 142.5,445.0 141.3,442.5 140.0,441.3 136.4,439.9 131.2,439.9ZM98.3,439.9 94.5,441.4 92.3,444.8 91.0,450.5 91.0,454.8 92.2,460.3 94.4,463.8 95.3,464.4 98.3,465.4 101.4,465.4 104.4,464.4 105.2,463.9 107.4,460.5 108.7,454.6 108.7,450.6 107.4,444.8 105.2,441.4 104.7,441.0 101.3,439.9ZM99.0,441.6 100.7,441.6 102.7,442.6 103.7,443.6 104.7,445.6 105.7,450.5 105.7,454.8 104.7,459.6 103.7,461.6 102.5,462.8 100.7,463.6 98.9,463.6 97.2,462.8 95.9,461.5 94.9,459.3 93.9,454.1 93.9,451.1 95.2,445.3 96.0,443.6 97.2,442.5Z" fill="#000" fill-rule="evenodd" transform="translate(142.60,0) scale(0.985,1) translate(-142.60,0)"/>
<path d="M116.4,500.3 114.8,502.0 114.8,502.7 116.3,504.2 117.0,504.3 118.8,502.7 118.8,502.0 117.2,500.3ZM132.2,478.8 128.4,480.3 126.2,483.7 124.9,489.6 124.9,493.6 126.2,499.5 128.4,502.8 129.2,503.3 132.2,504.3 135.3,504.3 138.9,503.0 141.4,499.2 142.5,493.7 142.5,489.5 141.3,483.7 139.0,480.3 135.3,478.8ZM132.9,480.6 134.9,480.7 136.4,481.5 137.5,482.6 138.7,485.0 139.7,490.1 139.7,493.1 138.4,499.0 137.7,500.5 136.4,501.7 134.7,502.6 132.5,502.5 131.0,501.7 129.9,500.6 128.9,498.6 127.9,493.7 127.9,489.5 128.9,484.6 129.9,482.6 130.9,481.6ZM98.3,478.8 94.5,480.3 92.3,483.7 91.0,489.5 91.0,493.7 92.2,499.2 94.4,502.7 95.3,503.3 98.3,504.3 101.4,504.3 104.4,503.3 105.2,502.8 107.4,499.5 108.7,493.6 108.7,489.6 107.4,483.7 105.2,480.3 104.7,480.0 101.3,478.8ZM99.0,480.6 100.7,480.6 102.7,481.6 103.7,482.6 104.7,484.6 105.7,489.5 105.7,493.7 104.7,498.6 103.7,500.6 102.5,501.7 100.7,502.6 98.9,502.6 97.2,501.7 95.9,500.5 94.9,498.2 93.9,493.1 93.9,490.1 95.2,484.2 96.0,482.6 97.2,481.5Z" fill="#000" fill-rule="evenodd" transform="translate(142.60,0) scale(0.985,1) translate(-142.60,0)"/>
<path d="M116.4,539.3 114.8,540.9 114.8,541.7 116.3,543.2 117.0,543.3 118.8,541.7 118.8,540.9 117.2,539.3ZM127.8,518.9 126.3,520.3 124.9,523.0 125.0,524.8 126.5,526.3 126.9,526.4 127.5,526.2 128.9,524.8 129.0,524.3 128.8,523.7 127.3,522.3 127.7,521.5 128.7,520.5 131.8,519.5 135.7,519.5 137.5,520.4 138.8,521.7 139.5,523.2 139.7,525.2 138.8,526.9 135.7,529.2 128.8,532.5 126.2,535.2 124.9,538.7 125.0,542.9 125.5,543.3 126.0,543.3 126.7,542.8 126.8,540.4 127.2,540.0 128.9,539.9 134.7,543.3 139.7,543.3 141.4,541.7 142.5,539.4 142.5,536.5 142.0,535.9 141.3,535.9 140.8,536.4 140.7,538.8 139.8,539.5 138.0,540.4 135.0,540.4 129.7,538.2 127.3,538.2 127.2,537.8 127.8,536.0 129.7,534.2 132.4,532.8 137.7,530.8 140.8,528.7 141.4,528.0 142.5,525.8 142.5,522.9 141.3,520.4 140.0,519.2 136.4,517.8 131.2,517.8ZM98.3,517.8 94.5,519.3 92.3,522.7 91.0,528.4 91.0,532.7 92.2,538.2 94.4,541.7 95.3,542.3 98.3,543.3 101.4,543.3 104.4,542.3 105.2,541.8 107.4,538.4 108.7,532.5 108.7,528.5 107.4,522.7 105.2,519.3 104.7,518.9 101.3,517.8ZM99.0,519.5 100.7,519.5 102.7,520.5 103.7,521.5 104.7,523.5 105.7,528.4 105.7,532.7 104.7,537.5 103.7,539.5 102.5,540.7 100.7,541.5 98.9,541.5 97.2,540.7 95.9,539.4 94.9,537.2 93.9,532.0 93.9,529.0 95.2,523.2 96.0,521.5 97.2,520.4Z" fill="#000" fill-rule="evenodd" transform="translate(142.60,0) scale(0.985,1) translate(-142.60,0)"/>
<path d="M65.55,531.74H84.65" stroke="#000" stroke-width="1.70" fill="none" stroke-linecap="round"/>
<path d="M116.4,578.2 114.8,579.8 114.8,580.6 116.3,582.1 117.0,582.2 118.8,580.6 118.8,579.8 117.2,578.2ZM137.4,556.7 136.9,556.7 136.2,557.3 123.8,574.5 123.9,575.0 124.5,575.5 134.9,575.5 135.0,580.3 132.3,580.5 131.7,581.3 132.3,582.2 141.0,582.1 141.4,581.6 141.4,581.1 141.0,580.6 138.0,580.3 138.0,575.6 142.9,575.5 143.7,574.8 143.5,574.1 142.8,573.6 138.0,573.6 138.0,557.3ZM134.9,562.2 135.0,573.6 126.7,573.7 126.7,573.3ZM98.3,556.7 94.5,558.2 92.3,561.6 91.0,567.3 91.0,571.6 92.2,577.1 94.4,580.6 95.3,581.2 98.3,582.2 101.4,582.2 104.4,581.2 105.2,580.7 107.4,577.3 108.7,571.5 108.7,567.5 107.4,561.6 105.2,558.2 104.7,557.8 101.3,556.7ZM99.0,558.5 100.7,558.5 102.7,559.5 103.7,560.5 104.7,562.5 105.7,567.3 105.7,571.6 104.7,576.5 103.7,578.5 102.5,579.6 100.7,580.5 98.9,580.5 97.2,579.6 95.9,578.3 94.9,576.1 93.9,571.0 93.9,568.0 95.2,562.1 96.0,560.5 97.2,559.3Z" fill="#000" fill-rule="evenodd" transform="translate(142.60,0) scale(0.985,1) translate(-142.60,0)"/>
<path d="M65.55,570.68H84.65" stroke="#000" stroke-width="1.70" fill="none" stroke-linecap="round"/>
<path d="M116.4,617.2 114.8,618.8 114.8,619.5 116.3,621.0 117.0,621.2 118.8,619.5 118.8,618.8 117.2,617.2ZM137.3,595.7 133.4,595.7 129.7,597.0 127.2,599.7 126.2,601.7 124.9,606.4 124.9,613.8 126.0,617.2 128.9,620.0 132.2,621.2 135.3,621.2 138.9,619.8 141.3,617.4 142.5,613.9 142.5,612.0 141.4,608.7 138.4,605.8 135.2,604.7 133.7,604.7 129.9,605.9 128.0,607.8 127.9,606.4 128.8,602.9 129.9,600.5 132.0,598.4 134.0,597.4 136.8,597.4 138.4,598.2 138.9,598.7 139.0,599.0 137.4,600.7 137.4,601.4 139.0,603.0 139.8,603.0 141.3,601.5 141.4,599.8 140.2,597.2ZM133.7,606.5 134.8,606.5 136.5,607.4 138.7,609.5 139.7,612.7 139.7,613.3 138.7,616.3 136.4,618.5 134.7,619.4 132.9,619.4 131.0,618.5 128.8,616.3 127.9,613.7 127.9,612.3 128.9,609.4 130.8,607.5ZM98.3,595.7 94.5,597.2 92.3,600.5 91.0,606.3 91.0,610.5 92.2,616.0 94.4,619.5 95.3,620.2 98.3,621.2 101.4,621.2 104.4,620.2 105.2,619.7 107.4,616.3 108.7,610.4 108.7,606.4 107.4,600.5 105.2,597.2 104.7,596.8 101.3,595.7ZM99.0,597.4 100.7,597.4 102.7,598.4 103.7,599.4 104.7,601.4 105.7,606.3 105.7,610.5 104.7,615.4 103.7,617.4 102.5,618.5 100.7,619.4 98.9,619.4 97.2,618.5 95.9,617.3 94.9,615.0 93.9,609.9 93.9,606.9 95.2,601.0 96.0,599.4 97.2,598.3Z" fill="#000" fill-rule="evenodd" transform="translate(142.60,0) scale(0.985,1) translate(-142.60,0)"/>
<path d="M65.55,609.62H84.65" stroke="#000" stroke-width="1.70" fill="none" stroke-linecap="round"/>
<path d="M116.4,656.1 114.8,657.7 114.8,658.5 116.3,660.0 117.0,660.1 118.8,658.5 118.8,657.7 117.2,656.1ZM131.0,634.6 127.8,635.7 127.2,636.3 126.0,638.7 126.0,642.3 127.3,645.0 128.3,645.7 127.7,646.0 126.2,647.5 125.0,649.7 124.9,654.8 126.2,657.5 128.0,659.1 131.0,660.1 136.4,660.1 139.9,658.8 141.4,657.3 142.5,655.1 142.5,649.8 141.2,647.2 140.3,646.3 139.2,645.7 140.3,644.8 141.4,642.5 141.4,638.7 140.2,636.1 139.7,635.7 136.4,634.6ZM131.5,646.6 135.9,646.6 137.7,647.5 138.7,648.5 139.7,650.5 139.5,654.7 138.8,656.2 137.9,657.2 135.8,658.3 131.4,658.2 129.9,657.5 128.8,656.3 127.9,654.6 127.9,650.2 128.8,648.5 129.8,647.5ZM129.8,637.5 131.8,636.3 135.7,636.3 137.3,637.1 137.8,637.6 138.5,639.2 138.5,642.0 137.7,643.7 135.9,644.7 131.5,644.7 130.0,644.0 129.0,642.2 129.0,639.0ZM98.3,634.6 94.5,636.1 92.3,639.5 91.0,645.2 91.0,649.5 92.2,655.0 94.4,658.5 95.3,659.1 98.3,660.1 101.4,660.1 104.4,659.1 105.2,658.6 107.4,655.2 108.7,649.3 108.7,645.3 107.4,639.5 105.2,636.1 104.7,635.7 101.3,634.6ZM99.0,636.3 100.7,636.3 102.7,637.3 103.7,638.3 104.7,640.3 105.7,645.2 105.7,649.5 104.7,654.3 103.7,656.3 102.5,657.5 100.7,658.3 98.9,658.3 97.2,657.5 95.9,656.2 94.9,654.0 93.9,648.8 93.9,645.8 95.2,640.0 96.0,638.3 97.2,637.2Z" fill="#000" fill-rule="evenodd" transform="translate(142.60,0) scale(0.985,1) translate(-142.60,0)"/>
<path d="M65.55,648.56H84.65" stroke="#000" stroke-width="1.70" fill="none" stroke-linecap="round"/>
<path d="M153.9,691.0 150.2,692.5 147.9,695.9 146.7,701.7 146.7,705.9 147.8,711.4 150.1,714.9 150.9,715.5 153.9,716.5 157.1,716.5 160.1,715.5 160.8,715.0 163.1,711.7 164.3,705.8 164.3,701.8 163.1,695.9 160.8,692.5 160.3,692.2 156.9,691.0ZM154.7,692.8 156.3,692.8 158.3,693.8 159.3,694.8 160.3,696.8 161.3,701.7 161.3,705.9 160.3,710.8 159.3,712.8 158.2,713.9 156.3,714.8 154.6,714.8 152.8,713.9 151.6,712.7 150.6,710.4 149.6,705.3 149.6,702.3 150.8,696.4 151.7,694.8 152.8,693.7Z" fill="#000" fill-rule="evenodd"/>
<path d="M282.40,703.00 c0.9,-2 2.4,-3.1 4.6,-3.1 h15.2" fill="none" stroke="#000" stroke-width="1.9" stroke-linecap="round"/><path d="M289.20,700.20 l1.5,0 l-2.6,15.2 l-2.6,0 z" fill="#000" stroke="#000" stroke-width="0.6" stroke-linejoin="round"/><path d="M296.20,700.20 l1.7,0 l-0.3,15.2 l-2.3,0 z" fill="#000" stroke="#000" stroke-width="0.6" stroke-linejoin="round"/>
<path d="M325.80,687.40L307.10,724.20" stroke="#000" stroke-width="1.75" stroke-linecap="round" fill="none"/>
<path d="M336.8,691.0 333.0,692.5 331.8,695.2 331.8,698.9 332.9,701.3 334.0,702.2 333.4,702.4 332.0,703.7 330.7,706.3 330.7,711.5 331.8,713.8 333.8,715.5 336.8,716.5 342.2,716.5 345.8,715.2 347.0,713.9 348.3,711.3 348.2,706.2 347.0,703.9 345.5,702.4 344.9,702.2 345.9,701.4 347.2,698.8 347.2,695.2 346.0,692.8 345.4,692.2 342.0,691.0ZM337.3,703.0 341.7,703.0 343.4,703.9 344.4,704.9 345.3,706.7 345.3,711.0 344.4,712.8 343.3,713.9 341.8,714.7 337.4,714.8 335.7,713.9 334.4,712.7 333.7,711.2 333.5,706.9 334.5,704.9 335.5,703.9ZM335.4,694.0 335.9,693.5 337.5,692.8 341.4,692.8 343.0,693.5 344.2,695.4 344.2,698.7 343.4,700.2 341.7,701.2 337.3,701.2 335.8,700.4 334.7,698.4 334.7,695.7Z" fill="#000" fill-rule="evenodd"/>
<path d="M442.40,703.00 c0.9,-2 2.4,-3.1 4.6,-3.1 h15.2" fill="none" stroke="#000" stroke-width="1.9" stroke-linecap="round"/><path d="M449.20,700.20 l1.5,0 l-2.6,15.2 l-2.6,0 z" fill="#000" stroke="#000" stroke-width="0.6" stroke-linejoin="round"/><path d="M456.20,700.20 l1.7,0 l-0.3,15.2 l-2.3,0 z" fill="#000" stroke="#000" stroke-width="0.6" stroke-linejoin="round"/>
<path d="M485.80,687.40L467.10,724.20" stroke="#000" stroke-width="1.75" stroke-linecap="round" fill="none"/>
<path d="M504.3,691.0 503.7,691.0 503.2,691.4 490.7,708.7 490.8,709.4 491.4,709.8 501.8,709.8 501.9,714.7 499.2,714.8 498.8,715.0 498.5,715.8 499.2,716.5 507.7,716.5 508.3,715.8 508.0,715.0 507.7,714.8 504.9,714.7 504.9,709.9 509.8,709.8 510.5,709.0 510.4,708.4 509.7,707.9 504.9,707.9 504.9,691.8ZM501.8,696.4 501.9,707.9 493.5,708.0 493.4,707.8Z" fill="#000" fill-rule="evenodd"/>
<path d="M596.9,691.0 593.5,692.2 591.9,693.7 590.6,696.2 590.6,697.8 591.7,699.2 592.6,699.7 593.2,699.4 594.5,698.2 594.6,697.2 593.0,695.5 593.2,694.9 594.4,693.8 597.5,692.8 601.4,692.8 603.0,693.5 604.1,695.4 604.1,698.7 603.4,700.2 601.6,701.2 598.2,701.2 597.5,701.7 597.4,702.2 597.5,702.5 598.2,703.0 601.6,703.0 603.4,703.9 604.2,704.8 605.2,707.7 605.2,711.0 604.4,712.8 603.2,713.9 601.4,714.8 597.4,714.8 594.1,713.7 593.0,712.0 594.6,710.4 594.6,709.7 593.0,708.0 592.2,708.0 590.7,709.5 590.6,711.5 591.7,713.8 593.7,715.5 596.7,716.5 602.1,716.5 605.7,715.2 607.0,713.9 608.2,711.3 608.1,707.3 607.0,705.0 604.2,702.3 605.9,701.4 607.0,699.2 607.1,695.2 606.0,692.8 605.4,692.2 602.0,691.0Z" fill="#000" fill-rule="evenodd"/>
<path d="M613.45,703.00 c0.9,-2 2.4,-3.1 4.6,-3.1 h15.2" fill="none" stroke="#000" stroke-width="1.9" stroke-linecap="round"/><path d="M620.25,700.20 l1.5,0 l-2.6,15.2 l-2.6,0 z" fill="#000" stroke="#000" stroke-width="0.6" stroke-linejoin="round"/><path d="M627.25,700.20 l1.7,0 l-0.3,15.2 l-2.3,0 z" fill="#000" stroke="#000" stroke-width="0.6" stroke-linejoin="round"/>
<path d="M656.85,687.40L638.15,724.20" stroke="#000" stroke-width="1.75" stroke-linecap="round" fill="none"/>
<path d="M667.8,691.0 664.1,692.5 662.8,695.2 662.8,698.9 664.0,701.3 665.1,702.2 664.5,702.4 663.1,703.7 661.7,706.3 661.7,711.5 662.8,713.8 664.8,715.5 667.8,716.5 673.2,716.5 676.8,715.2 678.1,713.9 679.3,711.3 679.2,706.2 678.1,703.9 676.6,702.4 676.0,702.2 677.0,701.4 678.2,698.8 678.2,695.2 677.1,692.8 676.5,692.2 673.1,691.0ZM668.3,703.0 672.7,703.0 674.5,703.9 675.5,704.9 676.3,706.7 676.3,711.0 675.5,712.8 674.3,713.9 672.8,714.7 668.5,714.8 666.7,713.9 665.5,712.7 664.7,711.2 664.6,706.9 665.6,704.9 666.6,703.9ZM666.5,694.0 667.0,693.5 668.6,692.8 672.5,692.8 674.1,693.5 675.2,695.4 675.2,698.7 674.5,700.2 672.7,701.2 668.3,701.2 666.8,700.4 665.7,698.4 665.7,695.7Z" fill="#000" fill-rule="evenodd"/>
<path d="M762.40,703.00 c0.9,-2 2.4,-3.1 4.6,-3.1 h15.2" fill="none" stroke="#000" stroke-width="1.9" stroke-linecap="round"/><path d="M769.20,700.20 l1.5,0 l-2.6,15.2 l-2.6,0 z" fill="#000" stroke="#000" stroke-width="0.6" stroke-linejoin="round"/><path d="M776.20,700.20 l1.7,0 l-0.3,15.2 l-2.3,0 z" fill="#000" stroke="#000" stroke-width="0.6" stroke-linejoin="round"/>
<path d="M805.80,687.40L787.10,724.20" stroke="#000" stroke-width="1.75" stroke-linecap="round" fill="none"/>
<path d="M813.5,692.2 811.9,693.7 810.7,696.2 810.7,697.8 812.3,699.5 812.7,699.7 813.3,699.4 814.7,697.9 814.7,697.2 813.0,695.5 813.3,694.9 814.4,693.8 817.5,692.8 821.4,692.8 823.4,693.8 824.4,694.8 825.3,696.5 825.3,698.7 824.0,700.7 821.2,702.5 814.5,705.8 811.8,708.5 810.7,711.9 810.7,715.9 811.3,716.5 812.0,716.4 812.4,716.0 812.4,713.8 813.0,713.2 814.7,713.2 820.3,716.5 825.4,716.5 827.0,715.0 828.3,712.5 828.3,709.9 827.7,709.2 827.0,709.2 826.5,709.7 826.4,711.9 825.5,712.8 823.7,713.7 820.8,713.7 815.4,711.4 813.0,711.4 812.9,710.9 813.4,709.4 815.5,707.3 822.8,704.3 826.5,701.9 827.0,701.4 828.3,698.8 828.2,695.9 826.9,693.5 825.8,692.4 822.0,691.0 816.9,691.0Z" fill="#000" fill-rule="evenodd"/>
<path d="M156.20,1039.83h6.40M796.20,1039.83h-6.40M156.20,1028.50h12.80M796.20,1028.50h-12.80M156.20,1017.17h6.40M796.20,1017.17h-6.40M156.20,1005.84h6.40M796.20,1005.84h-6.40M156.20,994.51h6.40M796.20,994.51h-6.40M156.20,983.18h12.80M796.20,983.18h-12.80M156.20,971.85h6.40M796.20,971.85h-6.40M156.20,960.52h6.40M796.20,960.52h-6.40M156.20,949.19h6.40M796.20,949.19h-6.40M156.20,937.86h12.80M796.20,937.86h-12.80M156.20,926.53h6.40M796.20,926.53h-6.40M156.20,915.20h6.40M796.20,915.20h-6.40M156.20,903.87h6.40M796.20,903.87h-6.40M156.20,892.54h12.80M796.20,892.54h-12.80M156.20,881.21h6.40M796.20,881.21h-6.40M156.20,869.88h6.40M796.20,869.88h-6.40M156.20,858.55h6.40M796.20,858.55h-6.40M156.20,847.22h12.80M796.20,847.22h-12.80M156.20,835.89h6.40M796.20,835.89h-6.40M156.20,824.56h6.40M796.20,824.56h-6.40M156.20,813.23h6.40M796.20,813.23h-6.40M156.20,801.90h12.80M796.20,801.90h-12.80M156.20,790.57h6.40M796.20,790.57h-6.40M316.20,778.90v5.5M316.20,1051.20v-5.5M476.20,778.90v5.5M476.20,1051.20v-5.5M636.20,778.90v5.5M636.20,1051.20v-5.5" stroke="#000" stroke-width="1.5" fill="none"/>
<rect x="156.20" y="778.90" width="640.00" height="272.30" fill="none" stroke="#000" stroke-width="1.95"/>
<path d="M156.20,1028.50H796.20" stroke="#000" stroke-width="2.1" stroke-dasharray="12 5.7 3.4 5.64" fill="none"/>
<path d="M156.50,1028.70C159.43,1028.53 169.17,1028.23 174.10,1027.70C179.03,1027.17 182.08,1026.27 186.10,1025.50C190.12,1024.73 194.18,1023.93 198.20,1023.10C202.22,1022.27 206.18,1021.30 210.20,1020.50C214.22,1019.70 218.28,1019.03 222.30,1018.30C226.32,1017.57 230.28,1017.02 234.30,1016.10C238.32,1015.18 242.38,1013.83 246.40,1012.80C250.42,1011.77 254.38,1010.92 258.40,1009.90C262.42,1008.88 266.48,1007.78 270.50,1006.70C274.52,1005.62 278.48,1004.68 282.50,1003.40C286.52,1002.12 290.58,1000.53 294.60,999.00C298.62,997.47 302.58,995.68 306.60,994.20C310.62,992.72 314.68,991.42 318.70,990.10C322.72,988.78 326.68,987.48 330.70,986.30C334.72,985.12 339.25,984.08 342.80,983.00C346.35,981.92 348.45,981.00 352.00,979.80C355.55,978.60 360.08,977.03 364.10,975.80C368.12,974.57 372.08,973.53 376.10,972.40C380.12,971.27 384.18,970.83 388.20,969.00C392.22,967.17 396.18,963.80 400.20,961.40C404.22,959.00 408.28,956.73 412.30,954.60C416.32,952.47 420.28,950.28 424.30,948.60C428.32,946.92 432.38,945.90 436.40,944.50C440.42,943.10 444.38,941.73 448.40,940.20C452.42,938.67 456.48,937.23 460.50,935.30C464.52,933.37 468.48,930.47 472.50,928.60C476.52,926.73 480.58,925.75 484.60,924.10C488.62,922.45 492.58,920.67 496.60,918.70C500.62,916.73 504.68,914.37 508.70,912.30C512.72,910.23 516.68,908.27 520.70,906.30C524.72,904.33 529.58,902.07 532.80,900.50C536.02,898.93 535.98,898.58 540.00,896.90C544.02,895.22 551.28,892.42 556.90,890.40C562.52,888.38 568.08,887.07 573.70,884.80C579.32,882.53 584.97,879.55 590.60,876.80C596.23,874.05 601.88,871.38 607.50,868.30C613.12,865.22 618.68,861.03 624.30,858.30C629.92,855.57 635.57,853.90 641.20,851.90C646.83,849.90 653.60,847.70 658.10,846.30C662.60,844.90 664.55,844.85 668.20,843.50C671.85,842.15 676.37,839.82 680.00,838.20C683.63,836.58 686.65,835.25 690.00,833.80C693.35,832.35 696.73,831.13 700.10,829.50C703.47,827.87 706.27,825.77 710.20,824.00C714.13,822.23 719.75,820.08 723.70,818.90C727.65,817.72 730.23,817.73 733.90,816.90C737.57,816.07 741.77,814.83 745.70,813.90C749.63,812.97 753.28,811.93 757.50,811.30C761.72,810.67 767.07,810.60 771.00,810.10C774.93,809.60 778.02,808.75 781.10,808.30C784.18,807.85 787.53,807.88 789.50,807.40C791.47,806.92 791.83,805.58 792.90,805.40C793.97,805.22 795.40,806.15 795.90,806.30" fill="none" stroke="#000" stroke-width="1.90" stroke-linejoin="round" stroke-linecap="butt"/>
<path d="M156.50,1028.70C159.43,1028.58 169.17,1028.40 174.10,1028.00C179.03,1027.60 182.08,1026.92 186.10,1026.30C190.12,1025.68 194.18,1025.03 198.20,1024.30C202.22,1023.57 206.18,1022.70 210.20,1021.90C214.22,1021.10 218.28,1020.22 222.30,1019.50C226.32,1018.78 230.28,1018.40 234.30,1017.60C238.32,1016.80 242.38,1015.70 246.40,1014.70C250.42,1013.70 254.38,1012.68 258.40,1011.60C262.42,1010.52 266.48,1009.37 270.50,1008.20C274.52,1007.03 278.48,1006.00 282.50,1004.60C286.52,1003.20 290.58,1001.42 294.60,999.80C298.62,998.18 302.58,996.43 306.60,994.90C310.62,993.37 314.68,991.92 318.70,990.60C322.72,989.28 326.68,988.20 330.70,987.00C334.72,985.80 339.25,984.63 342.80,983.40C346.35,982.17 348.45,980.95 352.00,979.60C355.55,978.25 360.08,976.62 364.10,975.30C368.12,973.98 372.08,972.90 376.10,971.70C380.12,970.50 384.18,969.98 388.20,968.10C392.22,966.22 396.18,962.82 400.20,960.40C404.22,957.98 408.28,955.73 412.30,953.60C416.32,951.47 420.28,949.28 424.30,947.60C428.32,945.92 432.38,944.90 436.40,943.50C440.42,942.10 444.38,940.73 448.40,939.20C452.42,937.67 456.48,936.23 460.50,934.30C464.52,932.37 468.48,929.48 472.50,927.60C476.52,925.72 480.58,924.68 484.60,923.00C488.62,921.32 492.58,919.50 496.60,917.50C500.62,915.50 504.68,913.10 508.70,911.00C512.72,908.90 516.68,906.92 520.70,904.90C524.72,902.88 529.58,900.62 532.80,898.90C536.02,897.18 535.98,896.47 540.00,894.60C544.02,892.73 551.28,889.85 556.90,887.70C562.52,885.55 568.08,884.10 573.70,881.70C579.32,879.30 584.97,876.18 590.60,873.30C596.23,870.42 601.88,867.62 607.50,864.40C613.12,861.18 618.68,856.87 624.30,854.00C629.92,851.13 635.57,849.32 641.20,847.20C646.83,845.08 653.60,842.78 658.10,841.30C662.60,839.82 664.55,839.72 668.20,838.30C671.85,836.88 676.37,834.48 680.00,832.80C683.63,831.12 686.65,829.67 690.00,828.20C693.35,826.73 696.73,825.68 700.10,824.00C703.47,822.32 706.27,819.93 710.20,818.10C714.13,816.27 719.75,814.18 723.70,813.00C727.65,811.82 730.23,811.75 733.90,811.00C737.57,810.25 741.77,809.35 745.70,808.50C749.63,807.65 753.57,806.47 757.50,805.90C761.43,805.33 765.37,805.47 769.30,805.10C773.23,804.73 777.73,804.02 781.10,803.70C784.47,803.38 787.53,803.53 789.50,803.20C791.47,802.87 791.83,801.75 792.90,801.70C793.97,801.65 795.40,802.70 795.90,802.90" fill="none" stroke="#ff3300" stroke-width="1.90" stroke-linejoin="round" stroke-linecap="butt"/>
<path d="M156.50,1028.70C158.63,1028.85 164.37,1029.60 169.30,1029.60C174.23,1029.60 179.28,1029.10 186.10,1028.70C192.92,1028.30 202.17,1027.60 210.20,1027.20C218.23,1026.80 227.47,1026.58 234.30,1026.30C241.13,1026.02 245.17,1025.43 251.20,1025.50C257.23,1025.57 264.48,1026.42 270.50,1026.70C276.52,1026.98 281.28,1027.20 287.30,1027.20C293.32,1027.20 300.57,1026.57 306.60,1026.70C312.63,1026.83 316.27,1027.75 323.50,1028.00C330.73,1028.25 340.58,1028.23 350.00,1028.20C359.42,1028.17 369.62,1027.70 380.00,1027.80C390.38,1027.90 400.63,1028.57 412.30,1028.80C423.97,1029.03 437.95,1029.02 450.00,1029.20C462.05,1029.38 469.80,1029.67 484.60,1029.90C499.40,1030.13 523.73,1030.48 538.80,1030.60C553.87,1030.72 566.47,1030.37 575.00,1030.60C583.53,1030.83 585.80,1031.55 590.00,1032.00C594.20,1032.45 596.22,1032.92 600.20,1033.30C604.18,1033.68 607.93,1034.32 613.90,1034.30C619.87,1034.28 628.15,1033.48 636.00,1033.20C643.85,1032.92 653.15,1032.52 661.00,1032.60C668.85,1032.68 672.95,1033.37 683.10,1033.70C693.25,1034.03 710.35,1034.60 721.90,1034.60C733.45,1034.60 742.70,1033.98 752.40,1033.70C762.10,1033.42 772.80,1033.17 780.10,1032.90C787.40,1032.63 793.52,1032.23 796.20,1032.10" fill="none" stroke="#2600dd" stroke-width="1.90" stroke-linejoin="round" stroke-linecap="butt"/>
<path d="M156.50,1028.70C163.75,1028.78 184.42,1029.27 200.00,1029.20C215.58,1029.13 233.33,1028.35 250.00,1028.30C266.67,1028.25 283.33,1028.92 300.00,1028.90C316.67,1028.88 333.33,1028.18 350.00,1028.20C366.67,1028.22 383.33,1028.97 400.00,1029.00C416.67,1029.03 433.33,1028.63 450.00,1028.40C466.67,1028.17 483.33,1027.60 500.00,1027.60C516.67,1027.60 533.33,1028.37 550.00,1028.40C566.67,1028.43 583.33,1028.00 600.00,1027.80C616.67,1027.60 633.33,1027.17 650.00,1027.20C666.67,1027.23 683.33,1027.80 700.00,1028.00C716.67,1028.20 734.00,1028.37 750.00,1028.40C766.00,1028.43 788.33,1028.23 796.00,1028.20" fill="none" stroke="#17e200" stroke-width="1.90" stroke-linejoin="round" stroke-linecap="butt" stroke-dasharray="12 5.7 3.4 5.64"/>
<path d="M116.4,1038.8 114.8,1040.5 114.8,1041.2 116.3,1042.7 117.0,1042.8 118.8,1041.2 118.8,1040.5 117.2,1038.8ZM132.2,1017.3 128.4,1018.8 126.2,1022.2 124.9,1028.1 124.9,1032.1 126.2,1038.0 128.4,1041.3 129.2,1041.8 132.2,1042.8 135.3,1042.8 138.9,1041.5 141.4,1037.7 142.5,1032.2 142.5,1028.0 141.3,1022.2 139.0,1018.8 135.3,1017.3ZM132.9,1019.1 134.9,1019.2 136.4,1020.0 137.5,1021.1 138.7,1023.5 139.7,1028.6 139.7,1031.6 138.4,1037.5 137.7,1039.0 136.4,1040.2 134.7,1041.1 132.5,1041.0 131.0,1040.2 129.9,1039.1 128.9,1037.1 127.9,1032.2 127.9,1028.0 128.9,1023.1 129.9,1021.1 130.9,1020.1ZM98.3,1017.3 94.5,1018.8 92.3,1022.2 91.0,1028.0 91.0,1032.2 92.2,1037.7 94.4,1041.2 95.3,1041.8 98.3,1042.8 101.4,1042.8 104.4,1041.8 105.2,1041.3 107.4,1038.0 108.7,1032.1 108.7,1028.1 107.4,1022.2 105.2,1018.8 104.7,1018.5 101.3,1017.3ZM99.0,1019.1 100.7,1019.1 102.7,1020.1 103.7,1021.1 104.7,1023.1 105.7,1028.0 105.7,1032.2 104.7,1037.1 103.7,1039.1 102.5,1040.2 100.7,1041.1 98.9,1041.1 97.2,1040.2 95.9,1039.0 94.9,1036.7 93.9,1031.6 93.9,1028.6 95.2,1022.7 96.0,1021.1 97.2,1020.0Z" fill="#000" fill-rule="evenodd" transform="translate(142.60,0) scale(0.985,1) translate(-142.60,0)"/>
<path d="M116.4,993.5 114.8,995.1 114.8,995.9 116.3,997.4 117.0,997.5 118.8,995.9 118.8,995.1 117.2,993.5ZM127.8,973.1 126.3,974.5 124.9,977.3 125.0,979.0 126.5,980.5 126.9,980.6 127.5,980.4 128.9,979.0 129.0,978.5 128.8,977.9 127.3,976.5 127.7,975.8 128.7,974.8 131.8,973.8 135.7,973.8 137.5,974.6 138.8,975.9 139.5,977.4 139.7,979.4 138.8,981.1 135.7,983.4 128.8,986.8 126.2,989.4 124.9,992.9 125.0,997.1 125.5,997.5 126.0,997.5 126.7,997.0 126.8,994.6 127.2,994.3 128.9,994.1 134.7,997.5 139.7,997.5 141.4,995.9 142.5,993.6 142.5,990.8 142.0,990.1 141.3,990.1 140.8,990.6 140.7,993.0 139.8,993.8 138.0,994.6 135.0,994.6 129.7,992.4 127.3,992.4 127.2,992.0 127.8,990.3 129.7,988.4 132.4,987.0 137.7,985.0 140.8,982.9 141.4,982.3 142.5,980.0 142.5,977.1 141.3,974.6 140.0,973.4 136.4,972.0 131.2,972.0ZM98.3,972.0 94.5,973.5 92.3,976.9 91.0,982.6 91.0,986.9 92.2,992.4 94.4,995.9 95.3,996.5 98.3,997.5 101.4,997.5 104.4,996.5 105.2,996.0 107.4,992.6 108.7,986.8 108.7,982.8 107.4,976.9 105.2,973.5 104.7,973.1 101.3,972.0ZM99.0,973.8 100.7,973.8 102.7,974.8 103.7,975.8 104.7,977.8 105.7,982.6 105.7,986.9 104.7,991.8 103.7,993.8 102.5,994.9 100.7,995.8 98.9,995.8 97.2,994.9 95.9,993.6 94.9,991.4 93.9,986.3 93.9,983.3 95.2,977.4 96.0,975.8 97.2,974.6Z" fill="#000" fill-rule="evenodd" transform="translate(142.60,0) scale(0.985,1) translate(-142.60,0)"/>
<path d="M116.4,948.2 114.8,949.8 114.8,950.6 116.3,952.1 117.0,952.2 118.8,950.6 118.8,949.8 117.2,948.2ZM137.4,926.7 136.9,926.7 136.2,927.3 123.8,944.4 123.9,944.9 124.5,945.4 134.9,945.4 135.0,950.3 132.3,950.4 131.7,951.3 132.3,952.2 141.0,952.1 141.4,951.6 141.4,951.1 141.0,950.6 138.0,950.3 138.0,945.6 142.9,945.4 143.7,944.8 143.5,944.1 142.8,943.6 138.0,943.6 138.0,927.3ZM134.9,932.2 135.0,943.6 126.7,943.7 126.7,943.3ZM98.3,926.7 94.5,928.2 92.3,931.6 91.0,937.3 91.0,941.6 92.2,947.1 94.4,950.6 95.3,951.2 98.3,952.2 101.4,952.2 104.4,951.2 105.2,950.7 107.4,947.3 108.7,941.4 108.7,937.4 107.4,931.6 105.2,928.2 104.7,927.8 101.3,926.7ZM99.0,928.4 100.7,928.4 102.7,929.4 103.7,930.4 104.7,932.4 105.7,937.3 105.7,941.6 104.7,946.4 103.7,948.4 102.5,949.6 100.7,950.4 98.9,950.4 97.2,949.6 95.9,948.3 94.9,946.1 93.9,940.9 93.9,937.9 95.2,932.1 96.0,930.4 97.2,929.3Z" fill="#000" fill-rule="evenodd" transform="translate(142.60,0) scale(0.985,1) translate(-142.60,0)"/>
<path d="M116.4,902.9 114.8,904.5 114.8,905.3 116.3,906.8 117.0,906.9 118.8,905.3 118.8,904.5 117.2,902.9ZM137.3,881.4 133.4,881.4 129.7,882.8 127.2,885.4 126.2,887.4 124.9,892.1 124.9,899.5 126.0,902.9 128.9,905.8 132.2,906.9 135.3,906.9 138.9,905.5 141.3,903.1 142.5,899.6 142.5,897.8 141.4,894.4 138.4,891.5 135.2,890.4 133.7,890.4 129.9,891.6 128.0,893.5 127.9,892.1 128.8,888.6 129.9,886.3 132.0,884.1 134.0,883.1 136.8,883.1 138.4,883.9 138.9,884.4 139.0,884.8 137.4,886.4 137.4,887.1 139.0,888.8 139.8,888.8 141.3,887.3 141.4,885.5 140.2,882.9ZM133.7,892.3 134.8,892.3 136.5,893.1 138.7,895.3 139.7,898.4 139.7,899.0 138.7,902.0 136.4,904.3 134.7,905.1 132.9,905.1 131.0,904.3 128.8,902.0 127.9,899.4 127.9,898.0 128.9,895.1 130.8,893.3ZM98.3,881.4 94.5,882.9 92.3,886.3 91.0,892.0 91.0,896.3 92.2,901.8 94.4,905.3 95.3,905.9 98.3,906.9 101.4,906.9 104.4,905.9 105.2,905.4 107.4,902.0 108.7,896.1 108.7,892.1 107.4,886.3 105.2,882.9 104.7,882.5 101.3,881.4ZM99.0,883.1 100.7,883.1 102.7,884.1 103.7,885.1 104.7,887.1 105.7,892.0 105.7,896.3 104.7,901.1 103.7,903.1 102.5,904.3 100.7,905.1 98.9,905.1 97.2,904.3 95.9,903.0 94.9,900.8 93.9,895.6 93.9,892.6 95.2,886.8 96.0,885.1 97.2,884.0Z" fill="#000" fill-rule="evenodd" transform="translate(142.60,0) scale(0.985,1) translate(-142.60,0)"/>
<path d="M116.4,857.6 114.8,859.2 114.8,859.9 116.3,861.4 117.0,861.6 118.8,859.9 118.8,859.2 117.2,857.6ZM131.0,836.1 127.8,837.2 127.2,837.8 126.0,840.2 126.0,843.8 127.3,846.4 128.3,847.2 127.7,847.4 126.2,848.9 125.0,851.2 124.9,856.3 126.2,858.9 128.0,860.6 131.0,861.6 136.4,861.6 139.9,860.3 141.4,858.8 142.5,856.6 142.5,851.3 141.2,848.7 140.3,847.8 139.2,847.2 140.3,846.3 141.4,843.9 141.4,840.2 140.2,837.6 139.7,837.2 136.4,836.1ZM131.5,848.1 135.9,848.1 137.7,848.9 138.7,849.9 139.7,851.9 139.5,856.2 138.8,857.7 137.9,858.7 135.8,859.8 131.4,859.7 129.9,858.9 128.8,857.8 127.9,856.1 127.9,851.7 128.8,849.9 129.8,848.9ZM129.8,838.9 131.8,837.8 135.7,837.8 137.3,838.6 137.8,839.1 138.5,840.7 138.5,843.4 137.7,845.2 135.9,846.2 131.5,846.2 130.0,845.4 129.0,843.7 129.0,840.4ZM98.3,836.1 94.5,837.6 92.3,840.9 91.0,846.7 91.0,850.9 92.2,856.4 94.4,859.9 95.3,860.6 98.3,861.6 101.4,861.6 104.4,860.6 105.2,860.1 107.4,856.7 108.7,850.8 108.7,846.8 107.4,840.9 105.2,837.6 104.7,837.2 101.3,836.1ZM99.0,837.8 100.7,837.8 102.7,838.8 103.7,839.8 104.7,841.8 105.7,846.7 105.7,850.9 104.7,855.8 103.7,857.8 102.5,858.9 100.7,859.8 98.9,859.8 97.2,858.9 95.9,857.7 94.9,855.4 93.9,850.3 93.9,847.3 95.2,841.4 96.0,839.8 97.2,838.7Z" fill="#000" fill-rule="evenodd" transform="translate(142.60,0) scale(0.985,1) translate(-142.60,0)"/>
<path d="M116.4,812.2 114.8,813.9 114.8,814.6 116.3,816.1 117.0,816.2 118.8,814.6 118.8,813.9 117.2,812.2ZM132.2,790.7 128.4,792.2 126.2,795.6 124.9,801.5 124.9,805.5 126.2,811.4 128.4,814.7 129.2,815.2 132.2,816.2 135.3,816.2 138.9,814.9 141.4,811.1 142.5,805.6 142.5,801.4 141.3,795.6 139.0,792.2 135.3,790.7ZM132.9,792.5 134.9,792.6 136.4,793.4 137.5,794.5 138.7,796.9 139.7,802.0 139.7,805.0 138.4,810.9 137.7,812.4 136.4,813.6 134.7,814.5 132.5,814.4 131.0,813.6 129.9,812.5 128.9,810.5 127.9,805.6 127.9,801.4 128.9,796.5 129.9,794.5 130.9,793.5ZM101.2,790.7 100.3,791.0 96.9,794.4 95.0,795.2 94.4,796.0 94.4,796.4 94.9,797.0 95.8,797.0 98.0,795.9 98.8,795.1 98.9,795.2 98.9,814.4 95.0,814.5 94.4,815.2 94.5,815.9 95.0,816.2 105.8,816.2 106.4,815.5 106.3,814.9 105.8,814.5 101.9,814.4 101.9,791.6Z" fill="#000" fill-rule="evenodd" transform="translate(142.60,0) scale(0.985,1) translate(-142.60,0)"/>
<path d="M153.9,1077.0 150.2,1078.5 147.9,1081.9 146.7,1087.7 146.7,1091.9 147.8,1097.4 150.1,1100.9 150.9,1101.5 153.9,1102.5 157.1,1102.5 160.1,1101.5 160.8,1101.0 163.1,1097.7 164.3,1091.8 164.3,1087.8 163.1,1081.9 160.8,1078.5 160.3,1078.2 156.9,1077.0ZM154.7,1078.8 156.3,1078.8 158.3,1079.8 159.3,1080.8 160.3,1082.8 161.3,1087.7 161.3,1091.9 160.3,1096.8 159.3,1098.8 158.2,1099.9 156.3,1100.8 154.6,1100.8 152.8,1099.9 151.6,1098.7 150.6,1096.4 149.6,1091.3 149.6,1088.3 150.8,1082.4 151.7,1080.8 152.8,1079.7Z" fill="#000" fill-rule="evenodd"/>
<path d="M282.40,1089.00 c0.9,-2 2.4,-3.1 4.6,-3.1 h15.2" fill="none" stroke="#000" stroke-width="1.9" stroke-linecap="round"/><path d="M289.20,1086.20 l1.5,0 l-2.6,15.2 l-2.6,0 z" fill="#000" stroke="#000" stroke-width="0.6" stroke-linejoin="round"/><path d="M296.20,1086.20 l1.7,0 l-0.3,15.2 l-2.3,0 z" fill="#000" stroke="#000" stroke-width="0.6" stroke-linejoin="round"/>
<path d="M325.80,1073.40L307.10,1110.20" stroke="#000" stroke-width="1.75" stroke-linecap="round" fill="none"/>
<path d="M336.8,1077.0 333.0,1078.5 331.8,1081.2 331.8,1084.9 332.9,1087.3 334.0,1088.2 333.4,1088.4 332.0,1089.7 330.7,1092.3 330.7,1097.5 331.8,1099.8 333.8,1101.5 336.8,1102.5 342.2,1102.5 345.8,1101.2 347.0,1099.9 348.3,1097.3 348.2,1092.2 347.0,1089.9 345.5,1088.4 344.9,1088.2 345.9,1087.4 347.2,1084.8 347.2,1081.2 346.0,1078.8 345.4,1078.2 342.0,1077.0ZM337.3,1089.0 341.7,1089.0 343.4,1089.9 344.4,1090.9 345.3,1092.7 345.3,1097.0 344.4,1098.8 343.3,1099.9 341.8,1100.7 337.4,1100.8 335.7,1099.9 334.4,1098.7 333.7,1097.2 333.5,1092.9 334.5,1090.9 335.5,1089.9ZM335.4,1080.0 335.9,1079.5 337.5,1078.8 341.4,1078.8 343.0,1079.5 344.2,1081.4 344.2,1084.7 343.4,1086.2 341.7,1087.2 337.3,1087.2 335.8,1086.4 334.7,1084.4 334.7,1081.7Z" fill="#000" fill-rule="evenodd"/>
<path d="M442.40,1089.00 c0.9,-2 2.4,-3.1 4.6,-3.1 h15.2" fill="none" stroke="#000" stroke-width="1.9" stroke-linecap="round"/><path d="M449.20,1086.20 l1.5,0 l-2.6,15.2 l-2.6,0 z" fill="#000" stroke="#000" stroke-width="0.6" stroke-linejoin="round"/><path d="M456.20,1086.20 l1.7,0 l-0.3,15.2 l-2.3,0 z" fill="#000" stroke="#000" stroke-width="0.6" stroke-linejoin="round"/>
<path d="M485.80,1073.40L467.10,1110.20" stroke="#000" stroke-width="1.75" stroke-linecap="round" fill="none"/>
<path d="M504.3,1077.0 503.7,1077.0 503.2,1077.4 490.7,1094.7 490.8,1095.4 491.4,1095.8 501.8,1095.8 501.9,1100.7 499.2,1100.8 498.8,1101.0 498.5,1101.8 499.2,1102.5 507.7,1102.5 508.3,1101.8 508.0,1101.0 507.7,1100.8 504.9,1100.7 504.9,1095.9 509.8,1095.8 510.5,1095.0 510.4,1094.4 509.7,1093.9 504.9,1093.9 504.9,1077.8ZM501.8,1082.4 501.9,1093.9 493.5,1094.0 493.4,1093.8Z" fill="#000" fill-rule="evenodd"/>
<path d="M596.9,1077.0 593.5,1078.2 591.9,1079.7 590.6,1082.2 590.6,1083.8 591.7,1085.2 592.6,1085.7 593.2,1085.4 594.5,1084.2 594.6,1083.2 593.0,1081.5 593.2,1080.9 594.4,1079.8 597.5,1078.8 601.4,1078.8 603.0,1079.5 604.1,1081.4 604.1,1084.7 603.4,1086.2 601.6,1087.2 598.2,1087.2 597.5,1087.7 597.4,1088.2 597.5,1088.5 598.2,1089.0 601.6,1089.0 603.4,1089.9 604.2,1090.8 605.2,1093.7 605.2,1097.0 604.4,1098.8 603.2,1099.9 601.4,1100.8 597.4,1100.8 594.1,1099.7 593.0,1098.0 594.6,1096.4 594.6,1095.7 593.0,1094.0 592.2,1094.0 590.7,1095.5 590.6,1097.5 591.7,1099.8 593.7,1101.5 596.7,1102.5 602.1,1102.5 605.7,1101.2 607.0,1099.9 608.2,1097.3 608.1,1093.3 607.0,1091.0 604.2,1088.3 605.9,1087.4 607.0,1085.2 607.1,1081.2 606.0,1078.8 605.4,1078.2 602.0,1077.0Z" fill="#000" fill-rule="evenodd"/>
<path d="M613.45,1089.00 c0.9,-2 2.4,-3.1 4.6,-3.1 h15.2" fill="none" stroke="#000" stroke-width="1.9" stroke-linecap="round"/><path d="M620.25,1086.20 l1.5,0 l-2.6,15.2 l-2.6,0 z" fill="#000" stroke="#000" stroke-width="0.6" stroke-linejoin="round"/><path d="M627.25,1086.20 l1.7,0 l-0.3,15.2 l-2.3,0 z" fill="#000" stroke="#000" stroke-width="0.6" stroke-linejoin="round"/>
<path d="M656.85,1073.40L638.15,1110.20" stroke="#000" stroke-width="1.75" stroke-linecap="round" fill="none"/>
<path d="M667.8,1077.0 664.1,1078.5 662.8,1081.2 662.8,1084.9 664.0,1087.3 665.1,1088.2 664.5,1088.4 663.1,1089.7 661.7,1092.3 661.7,1097.5 662.8,1099.8 664.8,1101.5 667.8,1102.5 673.2,1102.5 676.8,1101.2 678.1,1099.9 679.3,1097.3 679.2,1092.2 678.1,1089.9 676.6,1088.4 676.0,1088.2 677.0,1087.4 678.2,1084.8 678.2,1081.2 677.1,1078.8 676.5,1078.2 673.1,1077.0ZM668.3,1089.0 672.7,1089.0 674.5,1089.9 675.5,1090.9 676.3,1092.7 676.3,1097.0 675.5,1098.8 674.3,1099.9 672.8,1100.7 668.5,1100.8 666.7,1099.9 665.5,1098.7 664.7,1097.2 664.6,1092.9 665.6,1090.9 666.6,1089.9ZM666.5,1080.0 667.0,1079.5 668.6,1078.8 672.5,1078.8 674.1,1079.5 675.2,1081.4 675.2,1084.7 674.5,1086.2 672.7,1087.2 668.3,1087.2 666.8,1086.4 665.7,1084.4 665.7,1081.7Z" fill="#000" fill-rule="evenodd"/>
<path d="M762.40,1089.00 c0.9,-2 2.4,-3.1 4.6,-3.1 h15.2" fill="none" stroke="#000" stroke-width="1.9" stroke-linecap="round"/><path d="M769.20,1086.20 l1.5,0 l-2.6,15.2 l-2.6,0 z" fill="#000" stroke="#000" stroke-width="0.6" stroke-linejoin="round"/><path d="M776.20,1086.20 l1.7,0 l-0.3,15.2 l-2.3,0 z" fill="#000" stroke="#000" stroke-width="0.6" stroke-linejoin="round"/>
<path d="M805.80,1073.40L787.10,1110.20" stroke="#000" stroke-width="1.75" stroke-linecap="round" fill="none"/>
<path d="M813.5,1078.2 811.9,1079.7 810.7,1082.2 810.7,1083.8 812.3,1085.5 812.7,1085.7 813.3,1085.4 814.7,1083.9 814.7,1083.2 813.0,1081.5 813.3,1080.9 814.4,1079.8 817.5,1078.8 821.4,1078.8 823.4,1079.8 824.4,1080.8 825.3,1082.5 825.3,1084.7 824.0,1086.7 821.2,1088.5 814.5,1091.8 811.8,1094.5 810.7,1097.9 810.7,1101.9 811.3,1102.5 812.0,1102.4 812.4,1102.0 812.4,1099.8 813.0,1099.2 814.7,1099.2 820.3,1102.5 825.4,1102.5 827.0,1101.0 828.3,1098.5 828.3,1095.9 827.7,1095.2 827.0,1095.2 826.5,1095.7 826.4,1097.9 825.5,1098.8 823.7,1099.7 820.8,1099.7 815.4,1097.4 813.0,1097.4 812.9,1096.9 813.4,1095.4 815.5,1093.3 822.8,1090.3 826.5,1087.9 827.0,1087.4 828.3,1084.8 828.2,1081.9 826.9,1079.5 825.8,1078.4 822.0,1077.0 816.9,1077.0Z" fill="#000" fill-rule="evenodd"/>
<path d="M156.20,1420.67h6.40M796.20,1420.67h-6.40M156.20,1403.66h6.40M796.20,1403.66h-6.40M156.20,1386.65h6.40M796.20,1386.65h-6.40M156.20,1369.64h12.80M796.20,1369.64h-12.80M156.20,1352.63h6.40M796.20,1352.63h-6.40M156.20,1335.62h6.40M796.20,1335.62h-6.40M156.20,1318.61h6.40M796.20,1318.61h-6.40M156.20,1301.60h12.80M796.20,1301.60h-12.80M156.20,1284.59h6.40M796.20,1284.59h-6.40M156.20,1267.58h6.40M796.20,1267.58h-6.40M156.20,1250.57h6.40M796.20,1250.57h-6.40M156.20,1233.56h12.80M796.20,1233.56h-12.80M156.20,1216.55h6.40M796.20,1216.55h-6.40M156.20,1199.54h6.40M796.20,1199.54h-6.40M156.20,1182.53h6.40M796.20,1182.53h-6.40M316.20,1165.50v5.5M316.20,1437.70v-5.5M476.20,1165.50v5.5M476.20,1437.70v-5.5M636.20,1165.50v5.5M636.20,1437.70v-5.5" stroke="#000" stroke-width="1.5" fill="none"/>
<rect x="156.20" y="1165.50" width="640.00" height="272.20" fill="none" stroke="#000" stroke-width="1.95"/>
<path d="M156.20,1301.60H796.20" stroke="#000" stroke-width="2.1" stroke-dasharray="12 5.7 3.4 5.64" fill="none"/>
<path d="M156.50,1301.40C157.22,1302.33 159.27,1305.58 160.80,1307.00C162.33,1308.42 164.08,1309.70 165.70,1309.90C167.32,1310.10 169.10,1309.28 170.50,1308.20C171.90,1307.12 172.70,1306.22 174.10,1303.40C175.50,1300.58 176.90,1296.73 178.90,1291.30C180.90,1285.87 183.68,1277.62 186.10,1270.80C188.52,1263.98 190.98,1257.02 193.40,1250.40C195.82,1243.78 198.60,1236.93 200.60,1231.10C202.60,1225.27 203.80,1221.23 205.40,1215.40C207.00,1209.57 208.58,1202.52 210.20,1196.10C211.82,1189.68 213.77,1182.12 215.10,1176.90C216.43,1171.68 217.38,1167.95 218.20,1164.80C219.02,1161.65 219.70,1159.13 220.00,1158.00" fill="none" stroke="#000" stroke-width="1.90" stroke-linejoin="round" stroke-linecap="butt" clip-path="url(#c4)"/>
<path d="M156.50,1301.40C157.42,1300.93 159.87,1300.08 162.00,1298.60C164.13,1297.12 166.88,1294.92 169.30,1292.50C171.72,1290.08 173.70,1287.72 176.50,1284.10C179.30,1280.48 183.28,1275.22 186.10,1270.80C188.92,1266.38 190.98,1262.42 193.40,1257.60C195.82,1252.78 198.20,1247.52 200.60,1241.90C203.00,1236.28 205.38,1230.32 207.80,1223.90C210.22,1217.48 212.68,1210.63 215.10,1203.40C217.52,1196.17 220.30,1186.93 222.30,1180.50C224.30,1174.07 225.98,1168.55 227.10,1164.80C228.22,1161.05 228.68,1159.13 229.00,1158.00" fill="none" stroke="#ff3300" stroke-width="1.90" stroke-linejoin="round" stroke-linecap="butt" clip-path="url(#c4)"/>
<path d="M156.50,1301.40C157.22,1302.73 159.07,1307.07 160.80,1309.40C162.53,1311.73 165.00,1314.12 166.90,1315.40C168.80,1316.68 170.40,1317.30 172.20,1317.10C174.00,1316.90 175.78,1315.80 177.70,1314.20C179.62,1312.60 181.88,1309.90 183.70,1307.50C185.52,1305.10 186.98,1302.10 188.60,1299.80C190.22,1297.50 191.40,1295.40 193.40,1293.70C195.40,1292.00 198.20,1291.40 200.60,1289.60C203.00,1287.80 205.58,1285.02 207.80,1282.90C210.02,1280.78 211.88,1278.30 213.90,1276.90C215.92,1275.50 217.90,1274.43 219.90,1274.50C221.90,1274.57 223.90,1277.03 225.90,1277.30C227.90,1277.57 229.88,1277.18 231.90,1276.10C233.92,1275.02 235.98,1272.80 238.00,1270.80C240.02,1268.80 241.80,1265.90 244.00,1264.10C246.20,1262.30 248.80,1260.28 251.20,1260.00C253.60,1259.72 255.98,1261.20 258.40,1262.40C260.82,1263.60 263.28,1265.38 265.70,1267.20C268.12,1269.02 270.50,1271.28 272.90,1273.30C275.30,1275.32 277.70,1277.78 280.10,1279.30C282.50,1280.82 284.88,1282.20 287.30,1282.40C289.72,1282.60 291.78,1281.35 294.60,1280.50C297.42,1279.65 301.40,1277.38 304.20,1277.30C307.00,1277.22 308.98,1278.27 311.40,1280.00C313.82,1281.73 316.28,1285.48 318.70,1287.70C321.12,1289.92 323.50,1292.30 325.90,1293.30C328.30,1294.30 330.75,1294.55 333.10,1293.70C335.45,1292.85 338.25,1289.32 340.00,1288.20C341.75,1287.08 342.00,1286.40 343.60,1287.00C345.20,1287.60 347.58,1290.20 349.60,1291.80C351.62,1293.40 353.68,1295.47 355.70,1296.60C357.72,1297.73 359.90,1297.38 361.70,1298.60C363.50,1299.82 364.50,1301.42 366.50,1303.90C368.50,1306.38 371.28,1310.78 373.70,1313.50C376.12,1316.22 378.58,1318.52 381.00,1320.20C383.42,1321.88 385.80,1323.12 388.20,1323.60C390.60,1324.08 393.20,1324.18 395.40,1323.10C397.60,1322.02 399.38,1319.70 401.40,1317.10C403.42,1314.50 405.68,1309.70 407.50,1307.50C409.32,1305.30 410.50,1303.90 412.30,1303.90C414.10,1303.90 416.30,1306.62 418.30,1307.50C420.30,1308.38 422.28,1308.40 424.30,1309.20C426.32,1310.00 428.38,1310.90 430.40,1312.30C432.42,1313.70 434.20,1316.12 436.40,1317.60C438.60,1319.08 441.20,1320.15 443.60,1321.20C446.00,1322.25 448.38,1323.30 450.80,1323.90C453.22,1324.50 455.68,1324.73 458.10,1324.80C460.52,1324.87 463.10,1324.98 465.30,1324.30C467.50,1323.62 469.37,1321.70 471.30,1320.70C473.23,1319.70 475.08,1317.90 476.90,1318.30C478.72,1318.70 480.32,1320.88 482.20,1323.10C484.08,1325.32 486.20,1329.27 488.20,1331.60C490.20,1333.93 492.20,1335.82 494.20,1337.10C496.20,1338.38 497.78,1339.22 500.20,1339.30C502.62,1339.38 506.08,1338.28 508.70,1337.60C511.32,1336.92 513.50,1336.00 515.90,1335.20C518.30,1334.40 520.75,1333.48 523.10,1332.80C525.45,1332.12 527.65,1331.10 530.00,1331.10C532.35,1331.10 534.78,1331.92 537.20,1332.80C539.62,1333.68 542.08,1335.32 544.50,1336.40C546.92,1337.48 549.30,1339.02 551.70,1339.30C554.10,1339.58 556.50,1337.90 558.90,1338.10C561.30,1338.30 563.68,1339.38 566.10,1340.50C568.52,1341.62 570.98,1343.48 573.40,1344.80C575.82,1346.12 578.20,1347.27 580.60,1348.40C583.00,1349.53 585.58,1349.58 587.80,1351.60C590.02,1353.62 591.88,1357.42 593.90,1360.50C595.92,1363.58 597.90,1367.42 599.90,1370.10C601.90,1372.78 603.50,1374.78 605.90,1376.60C608.30,1378.42 611.68,1381.00 614.30,1381.00C616.92,1381.00 619.18,1377.68 621.60,1376.60C624.02,1375.52 626.40,1374.78 628.80,1374.50C631.20,1374.22 633.58,1374.43 636.00,1374.90C638.42,1375.37 640.88,1377.17 643.30,1377.30C645.72,1377.43 648.30,1376.10 650.50,1375.70C652.70,1375.30 654.42,1375.55 656.50,1374.90C658.58,1374.25 660.78,1371.80 663.00,1371.80C665.22,1371.80 667.47,1373.57 669.80,1374.90C672.13,1376.23 674.60,1378.47 677.00,1379.80C679.40,1381.13 681.80,1382.17 684.20,1382.90C686.60,1383.63 688.75,1383.77 691.40,1384.20C694.05,1384.63 697.80,1385.53 700.10,1385.50C702.40,1385.47 703.65,1384.28 705.20,1384.00C706.75,1383.72 707.72,1383.18 709.40,1383.80C711.08,1384.42 713.47,1386.83 715.30,1387.70C717.13,1388.57 718.43,1389.00 720.40,1389.00C722.37,1389.00 724.85,1388.57 727.10,1387.70C729.35,1386.83 731.65,1384.70 733.90,1383.80C736.15,1382.90 738.63,1382.63 740.60,1382.30C742.57,1381.97 743.73,1382.50 745.70,1381.80C747.67,1381.10 750.43,1378.67 752.40,1378.10C754.37,1377.53 755.53,1378.40 757.50,1378.40C759.47,1378.40 761.95,1378.60 764.20,1378.10C766.45,1377.60 768.75,1376.75 771.00,1375.40C773.25,1374.05 775.45,1371.83 777.70,1370.00C779.95,1368.17 782.25,1366.08 784.50,1364.40C786.75,1362.72 789.30,1360.93 791.20,1359.90C793.10,1358.87 795.12,1358.48 795.90,1358.20" fill="none" stroke="#2600dd" stroke-width="1.90" stroke-linejoin="round" stroke-linecap="butt"/>
<path d="M156.50,1301.40C157.83,1301.93 161.97,1302.67 164.50,1304.60C167.03,1306.53 169.30,1311.40 171.70,1313.00C174.10,1314.60 176.50,1314.48 178.90,1314.20C181.30,1313.92 183.68,1311.50 186.10,1311.30C188.52,1311.10 190.58,1312.12 193.40,1313.00C196.22,1313.88 199.78,1315.80 203.00,1316.60C206.22,1317.40 209.68,1317.27 212.70,1317.80C215.72,1318.33 218.70,1319.80 221.10,1319.80C223.50,1319.80 224.90,1319.73 227.10,1317.80C229.30,1315.87 231.88,1311.00 234.30,1308.20C236.72,1305.40 239.18,1302.82 241.60,1301.00C244.02,1299.18 246.00,1298.12 248.80,1297.30C251.60,1296.48 255.18,1296.98 258.40,1296.10C261.62,1295.22 264.88,1293.08 268.10,1292.00C271.32,1290.92 274.50,1290.20 277.70,1289.60C280.90,1289.00 284.08,1288.52 287.30,1288.40C290.52,1288.28 293.78,1288.42 297.00,1288.90C300.22,1289.38 303.38,1290.30 306.60,1291.30C309.82,1292.30 313.08,1293.28 316.30,1294.90C319.52,1296.52 322.70,1298.90 325.90,1301.00C329.10,1303.10 333.15,1306.02 335.50,1307.50C337.85,1308.98 338.05,1308.50 340.00,1309.90C341.95,1311.30 344.78,1314.58 347.20,1315.90C349.62,1317.22 351.68,1317.60 354.50,1317.80C357.32,1318.00 361.30,1316.82 364.10,1317.10C366.90,1317.38 368.88,1318.57 371.30,1319.50C373.72,1320.43 375.78,1322.10 378.60,1322.70C381.42,1323.30 385.00,1323.43 388.20,1323.10C391.40,1322.77 394.58,1321.50 397.80,1320.70C401.02,1319.90 404.28,1318.70 407.50,1318.30C410.72,1317.90 414.30,1318.18 417.10,1318.30C419.90,1318.42 422.08,1319.40 424.30,1319.00C426.52,1318.60 428.38,1317.82 430.40,1315.90C432.42,1313.98 434.20,1310.32 436.40,1307.50C438.60,1304.68 441.20,1301.22 443.60,1299.00C446.00,1296.78 448.38,1295.48 450.80,1294.20C453.22,1292.92 455.88,1291.78 458.10,1291.30C460.32,1290.82 462.10,1290.62 464.10,1291.30C466.10,1291.98 467.90,1293.10 470.10,1295.40C472.30,1297.70 474.88,1301.68 477.30,1305.10C479.72,1308.52 482.18,1312.90 484.60,1315.90C487.02,1318.90 489.40,1321.50 491.80,1323.10C494.20,1324.70 496.18,1324.82 499.00,1325.50C501.82,1326.18 505.48,1327.07 508.70,1327.20C511.92,1327.33 515.08,1327.18 518.30,1326.30C521.52,1325.42 524.45,1324.03 528.00,1321.90C531.55,1319.77 536.05,1315.90 539.60,1313.50C543.15,1311.10 546.08,1309.18 549.30,1307.50C552.52,1305.82 555.68,1304.42 558.90,1303.40C562.12,1302.38 565.38,1302.42 568.60,1301.40C571.82,1300.38 575.00,1299.30 578.20,1297.30C581.40,1295.30 584.78,1291.72 587.80,1289.40C590.82,1287.08 593.68,1284.73 596.30,1283.40C598.92,1282.07 601.30,1281.40 603.50,1281.40C605.70,1281.40 607.30,1282.07 609.50,1283.40C611.70,1284.73 614.28,1287.20 616.70,1289.40C619.12,1291.60 621.58,1293.98 624.00,1296.60C626.42,1299.22 628.80,1302.08 631.20,1305.10C633.60,1308.12 636.18,1311.90 638.40,1314.70C640.62,1317.50 642.48,1320.10 644.50,1321.90C646.52,1323.70 648.50,1325.10 650.50,1325.50C652.50,1325.90 654.50,1325.50 656.50,1324.30C658.50,1323.10 660.12,1320.90 662.50,1318.30C664.88,1315.70 668.63,1311.25 670.80,1308.70C672.97,1306.15 673.97,1304.75 675.50,1303.00C677.03,1301.25 677.80,1299.85 680.00,1298.20C682.20,1296.55 686.05,1294.78 688.70,1293.10C691.35,1291.42 693.50,1289.47 695.90,1288.10C698.30,1286.73 700.43,1285.35 703.10,1284.90C705.77,1284.45 709.02,1285.27 711.90,1285.40C714.78,1285.53 717.58,1285.85 720.40,1285.70C723.22,1285.55 726.28,1284.50 728.80,1284.50C731.32,1284.50 733.25,1285.08 735.50,1285.70C737.75,1286.32 740.05,1287.30 742.30,1288.20C744.55,1289.10 746.47,1289.92 749.00,1291.10C751.53,1292.28 754.97,1293.90 757.50,1295.30C760.03,1296.70 761.95,1298.02 764.20,1299.50C766.45,1300.98 768.75,1302.80 771.00,1304.20C773.25,1305.60 775.45,1307.00 777.70,1307.90C779.95,1308.80 782.25,1309.43 784.50,1309.60C786.75,1309.77 789.30,1309.18 791.20,1308.90C793.10,1308.62 795.12,1308.07 795.90,1307.90" fill="none" stroke="#17e200" stroke-width="1.90" stroke-linejoin="round" stroke-linecap="butt" stroke-dasharray="12 5.7 3.4 5.64"/>
<path d="M93.8,1243.9 92.2,1245.5 92.2,1246.3 93.7,1247.8 94.4,1247.9 96.2,1246.3 96.2,1245.5 94.5,1243.9ZM127.8,1223.5 126.2,1225.0 124.9,1227.5 124.9,1229.1 126.5,1230.9 126.9,1231.0 127.5,1230.8 128.9,1229.3 128.9,1228.5 127.3,1226.9 127.5,1226.3 128.7,1225.1 131.8,1224.1 135.7,1224.1 137.7,1225.1 138.7,1226.1 139.5,1227.9 139.5,1230.0 138.3,1232.0 135.4,1233.9 128.8,1237.1 126.0,1239.9 124.9,1243.3 124.9,1247.3 125.5,1247.9 126.3,1247.8 126.7,1247.4 126.7,1245.1 127.3,1244.5 128.9,1244.5 134.5,1247.9 139.7,1247.9 141.3,1246.4 142.5,1243.9 142.5,1241.3 141.9,1240.5 141.3,1240.5 140.8,1241.0 140.7,1243.3 139.8,1244.1 137.9,1245.0 135.0,1245.0 129.7,1242.8 127.3,1242.8 127.2,1242.3 127.7,1240.8 129.8,1238.6 137.0,1235.6 140.8,1233.3 141.3,1232.8 142.5,1230.1 142.4,1227.3 141.2,1224.9 140.0,1223.8 136.3,1222.4 131.2,1222.4ZM109.5,1222.4 105.8,1223.9 103.5,1227.3 102.3,1233.1 102.3,1237.1 103.5,1243.0 105.8,1246.4 106.5,1246.9 109.5,1247.9 112.7,1247.9 116.3,1246.5 118.8,1242.8 119.9,1237.3 119.9,1233.0 118.7,1227.3 116.4,1223.9 112.7,1222.4ZM110.3,1224.1 112.3,1224.3 113.8,1225.0 114.9,1226.1 116.0,1228.5 117.0,1233.6 117.0,1236.6 115.8,1242.5 115.0,1244.0 113.8,1245.3 112.0,1246.1 109.9,1246.0 108.4,1245.3 107.3,1244.1 106.3,1242.1 105.3,1237.3 105.3,1233.0 106.3,1228.1 107.3,1226.1 108.3,1225.1ZM75.7,1222.4 71.9,1223.9 69.7,1227.3 68.4,1233.0 68.4,1237.3 69.5,1242.8 71.8,1246.3 72.7,1246.9 75.7,1247.9 78.8,1247.9 81.8,1246.9 82.5,1246.4 84.8,1243.0 86.0,1237.1 86.0,1233.1 84.8,1227.3 82.5,1223.9 82.0,1223.5 78.7,1222.4ZM76.4,1224.1 78.0,1224.1 80.0,1225.1 81.0,1226.1 82.0,1228.1 83.0,1233.0 83.0,1237.3 82.0,1242.1 81.0,1244.1 79.9,1245.3 78.0,1246.1 76.3,1246.1 74.5,1245.3 73.3,1244.0 72.3,1241.8 71.3,1236.6 71.3,1233.6 72.5,1227.8 73.4,1226.1 74.5,1225.0Z" fill="#000" fill-rule="evenodd" transform="translate(142.60,0) scale(0.985,1) translate(-142.60,0)"/>
<path d="M93.8,1311.9 92.2,1313.6 92.2,1314.3 93.7,1315.8 94.4,1315.9 96.2,1314.3 96.2,1313.6 94.5,1311.9ZM132.2,1290.4 128.4,1291.9 126.2,1295.3 124.9,1301.1 124.9,1305.3 126.0,1310.8 128.3,1314.3 129.2,1314.9 132.2,1315.9 135.3,1315.9 138.3,1314.9 139.0,1314.4 141.3,1311.1 142.5,1305.2 142.5,1301.2 141.3,1295.3 139.0,1291.9 138.5,1291.6 135.2,1290.4ZM132.9,1292.2 134.5,1292.2 136.5,1293.2 137.5,1294.2 138.5,1296.2 139.5,1301.1 139.5,1305.3 138.5,1310.2 137.5,1312.2 136.4,1313.3 134.5,1314.2 132.8,1314.2 131.0,1313.3 129.8,1312.1 128.8,1309.8 127.8,1304.7 127.8,1301.7 129.0,1295.8 129.9,1294.2 131.0,1293.1ZM109.5,1290.4 105.8,1291.9 103.5,1295.3 102.3,1301.2 102.3,1305.2 103.5,1311.1 105.8,1314.4 106.5,1314.9 109.5,1315.9 112.7,1315.9 116.3,1314.6 118.8,1310.8 119.9,1305.3 119.9,1301.1 118.7,1295.3 116.4,1291.9 112.7,1290.4ZM110.3,1292.2 112.3,1292.3 113.8,1293.1 114.9,1294.2 116.0,1296.6 117.0,1301.7 117.0,1304.7 115.8,1310.6 115.0,1312.1 113.8,1313.3 112.0,1314.2 109.9,1314.1 108.4,1313.3 107.3,1312.2 106.3,1310.2 105.3,1305.3 105.3,1301.1 106.3,1296.2 107.3,1294.2 108.3,1293.2ZM75.7,1290.4 71.9,1291.9 69.7,1295.3 68.4,1301.1 68.4,1305.3 69.5,1310.8 71.8,1314.3 72.7,1314.9 75.7,1315.9 78.8,1315.9 81.8,1314.9 82.5,1314.4 84.8,1311.1 86.0,1305.2 86.0,1301.2 84.8,1295.3 82.5,1291.9 82.0,1291.6 78.7,1290.4ZM76.4,1292.2 78.0,1292.2 80.0,1293.2 81.0,1294.2 82.0,1296.2 83.0,1301.1 83.0,1305.3 82.0,1310.2 81.0,1312.2 79.9,1313.3 78.0,1314.2 76.3,1314.2 74.5,1313.3 73.3,1312.1 72.3,1309.8 71.3,1304.7 71.3,1301.7 72.5,1295.8 73.4,1294.2 74.5,1293.1Z" fill="#000" fill-rule="evenodd" transform="translate(142.60,0) scale(0.985,1) translate(-142.60,0)"/>
<path d="M93.8,1380.0 92.2,1381.6 92.2,1382.4 93.7,1383.9 94.4,1384.0 96.2,1382.4 96.2,1381.6 94.5,1380.0ZM127.8,1359.6 126.2,1361.1 124.9,1363.6 124.9,1365.2 126.5,1367.0 126.9,1367.1 127.5,1366.9 128.9,1365.4 128.9,1364.6 127.3,1363.0 127.5,1362.4 128.7,1361.2 131.8,1360.2 135.7,1360.2 137.7,1361.2 138.7,1362.2 139.5,1364.0 139.5,1366.1 138.3,1368.1 135.4,1370.0 128.8,1373.2 126.0,1376.0 124.9,1379.4 124.9,1383.4 125.5,1384.0 126.3,1383.9 126.7,1383.5 126.7,1381.2 127.3,1380.6 128.9,1380.6 134.5,1384.0 139.7,1384.0 141.3,1382.5 142.5,1380.0 142.5,1377.4 141.9,1376.6 141.3,1376.6 140.8,1377.1 140.7,1379.4 139.8,1380.2 137.9,1381.1 135.0,1381.1 129.7,1378.9 127.3,1378.9 127.2,1378.4 127.7,1376.9 129.8,1374.7 137.0,1371.7 140.8,1369.4 141.3,1368.9 142.5,1366.2 142.4,1363.4 141.2,1361.0 140.0,1359.9 136.3,1358.5 131.2,1358.5ZM109.5,1358.5 105.8,1360.0 103.5,1363.4 102.3,1369.2 102.3,1373.2 103.5,1379.1 105.8,1382.5 106.5,1383.0 109.5,1384.0 112.7,1384.0 116.3,1382.6 118.8,1378.9 119.9,1373.4 119.9,1369.1 118.7,1363.4 116.4,1360.0 112.7,1358.5ZM110.3,1360.2 112.3,1360.4 113.8,1361.1 114.9,1362.2 116.0,1364.6 117.0,1369.7 117.0,1372.7 115.8,1378.6 115.0,1380.1 113.8,1381.4 112.0,1382.2 109.9,1382.1 108.4,1381.4 107.3,1380.2 106.3,1378.2 105.3,1373.4 105.3,1369.1 106.3,1364.2 107.3,1362.2 108.3,1361.2ZM75.7,1358.5 71.9,1360.0 69.7,1363.4 68.4,1369.1 68.4,1373.4 69.5,1378.9 71.8,1382.4 72.7,1383.0 75.7,1384.0 78.8,1384.0 81.8,1383.0 82.5,1382.5 84.8,1379.1 86.0,1373.2 86.0,1369.2 84.8,1363.4 82.5,1360.0 82.0,1359.6 78.7,1358.5ZM76.4,1360.2 78.0,1360.2 80.0,1361.2 81.0,1362.2 82.0,1364.2 83.0,1369.1 83.0,1373.4 82.0,1378.2 81.0,1380.2 79.9,1381.4 78.0,1382.2 76.3,1382.2 74.5,1381.4 73.3,1380.1 72.3,1377.9 71.3,1372.7 71.3,1369.7 72.5,1363.9 73.4,1362.2 74.5,1361.1Z" fill="#000" fill-rule="evenodd" transform="translate(142.60,0) scale(0.985,1) translate(-142.60,0)"/>
<path d="M43.26,1372.44H62.36" stroke="#000" stroke-width="1.70" fill="none" stroke-linecap="round"/>
<path d="M93.8,1186.1 92.2,1187.8 92.2,1188.5 93.7,1190.0 94.4,1190.1 96.2,1188.5 96.2,1187.8 94.5,1186.1ZM137.4,1164.6 136.8,1164.6 136.3,1165.0 123.8,1182.3 123.9,1183.0 124.5,1183.4 134.9,1183.4 135.0,1188.3 132.3,1188.4 131.9,1188.6 131.7,1189.4 132.3,1190.1 140.8,1190.1 141.4,1189.4 141.2,1188.6 140.8,1188.4 138.0,1188.3 138.0,1183.5 142.9,1183.4 143.7,1182.6 143.5,1182.0 142.8,1181.5 138.0,1181.5 138.0,1165.4ZM134.9,1170.0 135.0,1181.5 126.7,1181.6 126.5,1181.4ZM109.5,1164.6 105.8,1166.1 103.5,1169.5 102.3,1175.4 102.3,1179.4 103.5,1185.3 105.8,1188.6 106.5,1189.1 109.5,1190.1 112.7,1190.1 116.3,1188.8 118.8,1185.0 119.9,1179.5 119.9,1175.3 118.7,1169.5 116.4,1166.1 112.7,1164.6ZM110.3,1166.4 112.3,1166.5 113.8,1167.3 114.9,1168.4 116.0,1170.8 117.0,1175.9 117.0,1178.9 115.8,1184.8 115.0,1186.3 113.8,1187.5 112.0,1188.4 109.9,1188.3 108.4,1187.5 107.3,1186.4 106.3,1184.4 105.3,1179.5 105.3,1175.3 106.3,1170.4 107.3,1168.4 108.3,1167.4ZM75.7,1164.6 71.9,1166.1 69.7,1169.5 68.4,1175.3 68.4,1179.5 69.5,1185.0 71.8,1188.5 72.7,1189.1 75.7,1190.1 78.8,1190.1 81.8,1189.1 82.5,1188.6 84.8,1185.3 86.0,1179.4 86.0,1175.4 84.8,1169.5 82.5,1166.1 82.0,1165.8 78.7,1164.6ZM76.4,1166.4 78.0,1166.4 80.0,1167.4 81.0,1168.4 82.0,1170.4 83.0,1175.3 83.0,1179.5 82.0,1184.4 81.0,1186.4 79.9,1187.5 78.0,1188.4 76.3,1188.4 74.5,1187.5 73.3,1186.3 72.3,1184.0 71.3,1178.9 71.3,1175.9 72.5,1170.0 73.4,1168.4 74.5,1167.3Z" fill="#000" fill-rule="evenodd" transform="translate(142.60,0) scale(0.985,1) translate(-142.60,0)"/>
<path d="M93.8,1434.4 92.2,1436.1 92.2,1436.8 93.7,1438.3 94.4,1438.4 96.2,1436.8 96.2,1436.1 94.5,1434.4ZM137.4,1412.9 136.8,1412.9 136.3,1413.3 123.8,1430.6 123.9,1431.3 124.5,1431.7 134.9,1431.7 135.0,1436.6 132.3,1436.7 131.9,1436.9 131.7,1437.7 132.3,1438.4 140.8,1438.4 141.4,1437.7 141.2,1436.9 140.8,1436.7 138.0,1436.6 138.0,1431.8 142.9,1431.7 143.7,1430.9 143.5,1430.3 142.8,1429.8 138.0,1429.8 138.0,1413.7ZM134.9,1418.3 135.0,1429.8 126.7,1429.9 126.5,1429.7ZM109.5,1412.9 105.8,1414.4 103.5,1417.8 102.3,1423.7 102.3,1427.7 103.5,1433.6 105.8,1436.9 106.5,1437.4 109.5,1438.4 112.7,1438.4 116.3,1437.1 118.8,1433.3 119.9,1427.8 119.9,1423.6 118.7,1417.8 116.4,1414.4 112.7,1412.9ZM110.3,1414.7 112.3,1414.8 113.8,1415.6 114.9,1416.7 116.0,1419.1 117.0,1424.2 117.0,1427.2 115.8,1433.1 115.0,1434.6 113.8,1435.8 112.0,1436.7 109.9,1436.6 108.4,1435.8 107.3,1434.7 106.3,1432.7 105.3,1427.8 105.3,1423.6 106.3,1418.7 107.3,1416.7 108.3,1415.7ZM75.7,1412.9 71.9,1414.4 69.7,1417.8 68.4,1423.6 68.4,1427.8 69.5,1433.3 71.8,1436.8 72.7,1437.4 75.7,1438.4 78.8,1438.4 81.8,1437.4 82.5,1436.9 84.8,1433.6 86.0,1427.7 86.0,1423.7 84.8,1417.8 82.5,1414.4 82.0,1414.1 78.7,1412.9ZM76.4,1414.7 78.0,1414.7 80.0,1415.7 81.0,1416.7 82.0,1418.7 83.0,1423.6 83.0,1427.8 82.0,1432.7 81.0,1434.7 79.9,1435.8 78.0,1436.7 76.3,1436.7 74.5,1435.8 73.3,1434.6 72.3,1432.3 71.3,1427.2 71.3,1424.2 72.5,1418.3 73.4,1416.7 74.5,1415.6Z" fill="#000" fill-rule="evenodd" transform="translate(142.60,0) scale(0.985,1) translate(-142.60,0)"/>
<path d="M43.26,1426.90H62.36" stroke="#000" stroke-width="1.70" fill="none" stroke-linecap="round"/>
<path d="M153.9,1463.5 150.2,1465.0 147.9,1468.4 146.7,1474.2 146.7,1478.4 147.8,1483.9 150.1,1487.4 150.9,1488.0 153.9,1489.0 157.1,1489.0 160.1,1488.0 160.8,1487.5 163.1,1484.2 164.3,1478.3 164.3,1474.3 163.1,1468.4 160.8,1465.0 160.3,1464.7 156.9,1463.5ZM154.7,1465.3 156.3,1465.3 158.3,1466.3 159.3,1467.3 160.3,1469.3 161.3,1474.2 161.3,1478.4 160.3,1483.3 159.3,1485.3 158.2,1486.4 156.3,1487.3 154.6,1487.3 152.8,1486.4 151.6,1485.2 150.6,1482.9 149.6,1477.8 149.6,1474.8 150.8,1468.9 151.7,1467.3 152.8,1466.2Z" fill="#000" fill-rule="evenodd"/>
<path d="M282.40,1475.50 c0.9,-2 2.4,-3.1 4.6,-3.1 h15.2" fill="none" stroke="#000" stroke-width="1.9" stroke-linecap="round"/><path d="M289.20,1472.70 l1.5,0 l-2.6,15.2 l-2.6,0 z" fill="#000" stroke="#000" stroke-width="0.6" stroke-linejoin="round"/><path d="M296.20,1472.70 l1.7,0 l-0.3,15.2 l-2.3,0 z" fill="#000" stroke="#000" stroke-width="0.6" stroke-linejoin="round"/>
<path d="M325.80,1459.90L307.10,1496.70" stroke="#000" stroke-width="1.75" stroke-linecap="round" fill="none"/>
<path d="M336.8,1463.5 333.0,1465.0 331.8,1467.7 331.8,1471.4 332.9,1473.8 334.0,1474.7 333.4,1474.9 332.0,1476.2 330.7,1478.8 330.7,1484.0 331.8,1486.3 333.8,1488.0 336.8,1489.0 342.2,1489.0 345.8,1487.7 347.0,1486.4 348.3,1483.8 348.2,1478.7 347.0,1476.4 345.5,1474.9 344.9,1474.7 345.9,1473.9 347.2,1471.3 347.2,1467.7 346.0,1465.3 345.4,1464.7 342.0,1463.5ZM337.3,1475.5 341.7,1475.5 343.4,1476.4 344.4,1477.4 345.3,1479.2 345.3,1483.5 344.4,1485.3 343.3,1486.4 341.8,1487.2 337.4,1487.3 335.7,1486.4 334.4,1485.2 333.7,1483.7 333.5,1479.4 334.5,1477.4 335.5,1476.4ZM335.4,1466.5 335.9,1466.0 337.5,1465.3 341.4,1465.3 343.0,1466.0 344.2,1467.9 344.2,1471.2 343.4,1472.7 341.7,1473.7 337.3,1473.7 335.8,1472.9 334.7,1470.9 334.7,1468.2Z" fill="#000" fill-rule="evenodd"/>
<path d="M442.40,1475.50 c0.9,-2 2.4,-3.1 4.6,-3.1 h15.2" fill="none" stroke="#000" stroke-width="1.9" stroke-linecap="round"/><path d="M449.20,1472.70 l1.5,0 l-2.6,15.2 l-2.6,0 z" fill="#000" stroke="#000" stroke-width="0.6" stroke-linejoin="round"/><path d="M456.20,1472.70 l1.7,0 l-0.3,15.2 l-2.3,0 z" fill="#000" stroke="#000" stroke-width="0.6" stroke-linejoin="round"/>
<path d="M485.80,1459.90L467.10,1496.70" stroke="#000" stroke-width="1.75" stroke-linecap="round" fill="none"/>
<path d="M504.3,1463.5 503.7,1463.5 503.2,1463.9 490.7,1481.2 490.8,1481.9 491.4,1482.3 501.8,1482.3 501.9,1487.2 499.2,1487.3 498.8,1487.5 498.5,1488.3 499.2,1489.0 507.7,1489.0 508.3,1488.3 508.0,1487.5 507.7,1487.3 504.9,1487.2 504.9,1482.4 509.8,1482.3 510.5,1481.5 510.4,1480.9 509.7,1480.4 504.9,1480.4 504.9,1464.3ZM501.8,1468.9 501.9,1480.4 493.5,1480.5 493.4,1480.3Z" fill="#000" fill-rule="evenodd"/>
<path d="M596.9,1463.5 593.5,1464.7 591.9,1466.2 590.6,1468.7 590.6,1470.3 591.7,1471.7 592.6,1472.2 593.2,1471.9 594.5,1470.7 594.6,1469.7 593.0,1468.0 593.2,1467.4 594.4,1466.3 597.5,1465.3 601.4,1465.3 603.0,1466.0 604.1,1467.9 604.1,1471.2 603.4,1472.7 601.6,1473.7 598.2,1473.7 597.5,1474.2 597.4,1474.7 597.5,1475.0 598.2,1475.5 601.6,1475.5 603.4,1476.4 604.2,1477.3 605.2,1480.2 605.2,1483.5 604.4,1485.3 603.2,1486.4 601.4,1487.3 597.4,1487.3 594.1,1486.2 593.0,1484.5 594.6,1482.9 594.6,1482.2 593.0,1480.5 592.2,1480.5 590.7,1482.0 590.6,1484.0 591.7,1486.3 593.7,1488.0 596.7,1489.0 602.1,1489.0 605.7,1487.7 607.0,1486.4 608.2,1483.8 608.1,1479.8 607.0,1477.5 604.2,1474.8 605.9,1473.9 607.0,1471.7 607.1,1467.7 606.0,1465.3 605.4,1464.7 602.0,1463.5Z" fill="#000" fill-rule="evenodd"/>
<path d="M613.45,1475.50 c0.9,-2 2.4,-3.1 4.6,-3.1 h15.2" fill="none" stroke="#000" stroke-width="1.9" stroke-linecap="round"/><path d="M620.25,1472.70 l1.5,0 l-2.6,15.2 l-2.6,0 z" fill="#000" stroke="#000" stroke-width="0.6" stroke-linejoin="round"/><path d="M627.25,1472.70 l1.7,0 l-0.3,15.2 l-2.3,0 z" fill="#000" stroke="#000" stroke-width="0.6" stroke-linejoin="round"/>
<path d="M656.85,1459.90L638.15,1496.70" stroke="#000" stroke-width="1.75" stroke-linecap="round" fill="none"/>
<path d="M667.8,1463.5 664.1,1465.0 662.8,1467.7 662.8,1471.4 664.0,1473.8 665.1,1474.7 664.5,1474.9 663.1,1476.2 661.7,1478.8 661.7,1484.0 662.8,1486.3 664.8,1488.0 667.8,1489.0 673.2,1489.0 676.8,1487.7 678.1,1486.4 679.3,1483.8 679.2,1478.7 678.1,1476.4 676.6,1474.9 676.0,1474.7 677.0,1473.9 678.2,1471.3 678.2,1467.7 677.1,1465.3 676.5,1464.7 673.1,1463.5ZM668.3,1475.5 672.7,1475.5 674.5,1476.4 675.5,1477.4 676.3,1479.2 676.3,1483.5 675.5,1485.3 674.3,1486.4 672.8,1487.2 668.5,1487.3 666.7,1486.4 665.5,1485.2 664.7,1483.7 664.6,1479.4 665.6,1477.4 666.6,1476.4ZM666.5,1466.5 667.0,1466.0 668.6,1465.3 672.5,1465.3 674.1,1466.0 675.2,1467.9 675.2,1471.2 674.5,1472.7 672.7,1473.7 668.3,1473.7 666.8,1472.9 665.7,1470.9 665.7,1468.2Z" fill="#000" fill-rule="evenodd"/>
<path d="M762.40,1475.50 c0.9,-2 2.4,-3.1 4.6,-3.1 h15.2" fill="none" stroke="#000" stroke-width="1.9" stroke-linecap="round"/><path d="M769.20,1472.70 l1.5,0 l-2.6,15.2 l-2.6,0 z" fill="#000" stroke="#000" stroke-width="0.6" stroke-linejoin="round"/><path d="M776.20,1472.70 l1.7,0 l-0.3,15.2 l-2.3,0 z" fill="#000" stroke="#000" stroke-width="0.6" stroke-linejoin="round"/>
<path d="M805.80,1459.90L787.10,1496.70" stroke="#000" stroke-width="1.75" stroke-linecap="round" fill="none"/>
<path d="M813.5,1464.7 811.9,1466.2 810.7,1468.7 810.7,1470.3 812.3,1472.0 812.7,1472.2 813.3,1471.9 814.7,1470.4 814.7,1469.7 813.0,1468.0 813.3,1467.4 814.4,1466.3 817.5,1465.3 821.4,1465.3 823.4,1466.3 824.4,1467.3 825.3,1469.0 825.3,1471.2 824.0,1473.2 821.2,1475.0 814.5,1478.3 811.8,1481.0 810.7,1484.4 810.7,1488.4 811.3,1489.0 812.0,1488.9 812.4,1488.5 812.4,1486.3 813.0,1485.7 814.7,1485.7 820.3,1489.0 825.4,1489.0 827.0,1487.5 828.3,1485.0 828.3,1482.4 827.7,1481.7 827.0,1481.7 826.5,1482.2 826.4,1484.4 825.5,1485.3 823.7,1486.2 820.8,1486.2 815.4,1483.9 813.0,1483.9 812.9,1483.4 813.4,1481.9 815.5,1479.8 822.8,1476.8 826.5,1474.4 827.0,1473.9 828.3,1471.3 828.2,1468.4 826.9,1466.0 825.8,1464.9 822.0,1463.5 816.9,1463.5Z" fill="#000" fill-rule="evenodd"/>
<g transform="translate(58.50,239.40) rotate(-90)"><path d="M0.2,-10.3 0.2,-9.6 0.8,-8.9 18.4,0.9 19.1,0.9 19.6,0.6 19.6,-0.4 18.9,-0.9 2.9,-9.9 19.2,-19.1 19.7,-19.8 19.2,-20.7 18.2,-20.7 1.3,-11.2Z" fill="#000" fill-rule="evenodd"/><path d="M40.2,-24.1 39.5,-24.2 38.8,-23.6 25.0,-1.2 24.7,-0.8 22.8,-0.8 22.3,-0.4 22.2,0.2 22.5,0.8 30.0,0.9 30.7,0.1 30.0,-0.8 27.0,-0.9 29.9,-5.7 38.5,-5.6 38.8,-0.9 35.9,-0.7 35.5,-0.3 35.5,0.4 36.2,0.9 43.3,0.9 43.9,0.4 43.9,-0.3 43.5,-0.7 41.7,-0.9 40.7,-23.3ZM37.8,-18.3 38.4,-7.7 38.2,-7.4 31.3,-7.4 31.2,-7.8Z" fill="#000" fill-rule="evenodd"/><circle cx="49.10" cy="-12.30" r="3.20" fill="#000"/><path d="M61.2,-24.1 60.7,-23.4 60.7,-23.1 61.2,-22.4 63.6,-22.3 63.7,-22.1 57.8,-1.4 57.4,-0.8 54.7,-0.8 54.1,-0.3 54.1,0.4 54.7,0.9 68.7,0.9 73.1,-0.2 75.8,-2.9 76.9,-6.3 76.9,-8.9 75.7,-11.6 75.2,-11.9 76.4,-12.4 78.1,-14.2 79.2,-17.7 79.1,-20.4 78.1,-22.4 77.6,-22.9 73.9,-24.2ZM60.6,-0.9 63.6,-11.2 72.4,-11.2 72.9,-10.7 74.1,-8.4 74.1,-6.8 73.1,-3.8 71.1,-1.8 68.1,-0.8ZM64.1,-13.2 66.8,-22.3 73.7,-22.3 75.4,-21.3 76.2,-19.8 76.2,-17.6 75.3,-14.9 74.3,-13.9 72.6,-13.1Z" fill="#000" fill-rule="evenodd"/><path d="M82.2,-20.3 82.2,-19.4 82.6,-19.1 98.8,-9.9 82.7,-0.8 82.1,0.1 82.7,0.9 83.3,0.9 101.6,-9.4 101.6,-10.3 100.7,-11.1 83.2,-20.8 82.8,-20.8Z" fill="#000" fill-rule="evenodd"/><path d="M126.7,-28.6 125.6,-28.2 105.7,7.2 105.6,8.2 106.1,8.7 106.7,8.7 107.3,8.2 127.1,-26.9 127.3,-27.8Z" fill="#000" fill-rule="evenodd"/><path d="M136.1,-24.1 135.6,-23.4 135.6,-23.1 136.1,-22.4 138.5,-22.3 138.6,-22.1 132.7,-1.4 132.3,-0.8 129.6,-0.8 129.0,-0.3 129.0,0.4 129.6,0.9 137.8,0.9 138.5,0.4 138.5,-0.3 137.8,-0.8 135.5,-0.9 138.5,-11.2 149.7,-11.2 149.7,-10.4 147.0,-0.9 144.0,-0.8 143.3,0.2 144.0,0.9 152.3,0.9 153.0,0.2 152.7,-0.6 152.3,-0.8 150.1,-0.8 150.0,-1.2 156.1,-22.3 159.1,-22.4 159.6,-23.1 159.5,-23.7 158.7,-24.2 150.8,-24.2 150.1,-23.7 150.1,-22.8 150.5,-22.4 153.0,-22.2 150.3,-13.1 139.1,-13.1 139.1,-13.7 141.6,-22.2 144.3,-22.3 145.1,-22.8 145.2,-23.3 145.1,-23.7 144.3,-24.2Z" fill="#000" fill-rule="evenodd"/><path d="M158.7,-1.0 158.7,-0.5 159.0,-0.1 160.2,0.1 160.8,1.0 160.8,7.6 160.3,8.5 159.2,8.7 158.7,9.1 158.7,9.6 159.2,10.0 165.0,10.0 165.5,9.6 165.3,8.9 164.4,8.7 163.5,8.0 163.5,2.1 164.2,1.0 165.7,-0.0 167.7,-0.0 168.2,0.6 168.7,2.1 168.7,7.9 168.2,8.5 166.7,9.0 166.5,9.5 167.0,10.0 172.9,10.0 173.5,9.4 173.2,8.9 172.0,8.6 171.4,7.9 171.3,2.5 171.9,1.2 172.7,0.5 173.7,-0.0 175.5,-0.0 175.9,0.4 176.5,2.0 176.5,7.9 176.2,8.5 174.8,8.9 174.5,9.6 175.0,10.0 180.9,10.0 181.4,9.6 181.2,8.9 179.8,8.5 179.3,7.7 179.3,2.6 178.7,0.7 177.8,-0.4 176.3,-1.3 173.2,-1.3 171.7,-0.4 170.8,0.6 169.5,-0.6 167.9,-1.4 165.7,-1.4 163.7,-0.3 163.4,-0.9 162.8,-1.4 159.2,-1.4Z" fill="#000" fill-rule="evenodd" transform="translate(158.60,0) scale(0.920,1) translate(-158.60,0)"/><path d="M185.9,-6.4 183.5,-5.4 182.1,-3.4 181.3,0.5 181.3,3.1 182.1,7.0 183.4,8.9 184.0,9.4 185.9,10.0 188.0,10.0 190.4,9.0 191.9,6.7 192.6,3.2 192.6,0.4 191.9,-3.1 190.5,-5.3 189.9,-5.8 188.0,-6.4ZM186.5,-5.1 187.5,-5.1 188.8,-4.4 189.3,-3.3 189.9,-0.3 189.9,3.9 189.3,6.9 188.8,8.0 187.5,8.7 186.4,8.7 185.3,8.1 184.6,6.9 184.0,3.7 184.0,-0.1 184.6,-3.3 185.3,-4.5Z" fill="#000" fill-rule="evenodd"/></g>
<g transform="translate(29.40,615.00) rotate(-90)"><path d="M0.2,-10.3 0.2,-9.6 0.8,-8.9 18.4,0.9 19.1,0.9 19.6,0.6 19.6,-0.4 18.9,-0.9 2.9,-9.9 19.2,-19.1 19.7,-19.8 19.2,-20.7 18.2,-20.7 1.3,-11.2Z" fill="#000" fill-rule="evenodd"/><path d="M44.7,-24.1 36.4,-24.2 35.7,-23.7 35.7,-22.8 36.1,-22.4 38.4,-22.3 38.6,-21.9 33.4,-4.6 32.4,-2.7 30.6,-0.8 28.9,-0.8 27.4,-1.6 26.4,-3.2 28.3,-4.8 28.6,-5.4 28.4,-5.9 26.9,-7.4 26.2,-7.4 24.6,-5.8 24.6,-2.8 26.2,-0.2 28.4,0.9 31.3,0.9 33.6,-0.2 35.2,-1.8 36.3,-4.1 41.6,-22.2 44.7,-22.4 45.2,-23.1 45.2,-23.4Z" fill="#000" fill-rule="evenodd"/><circle cx="47.30" cy="-12.30" r="3.20" fill="#000"/><path d="M56.1,-24.1 55.6,-23.4 55.6,-23.1 56.1,-22.4 58.5,-22.3 58.6,-22.1 52.7,-1.4 52.3,-0.8 49.6,-0.8 49.0,-0.3 49.0,0.4 49.6,0.9 63.6,0.9 68.0,-0.2 70.7,-2.9 71.8,-6.3 71.8,-8.9 70.6,-11.6 70.1,-11.9 71.3,-12.4 73.0,-14.2 74.1,-17.7 74.0,-20.4 73.0,-22.4 72.5,-22.9 68.8,-24.2ZM55.5,-0.9 58.5,-11.2 67.3,-11.2 67.8,-10.7 69.0,-8.4 69.0,-6.8 68.0,-3.8 66.0,-1.8 63.0,-0.8ZM59.0,-13.2 61.7,-22.3 68.6,-22.3 70.3,-21.3 71.1,-19.8 71.1,-17.6 70.2,-14.9 69.2,-13.9 67.5,-13.1Z" fill="#000" fill-rule="evenodd"/><path d="M79.8,-20.3 79.8,-19.4 80.2,-19.1 96.4,-9.9 80.3,-0.8 79.7,0.1 80.3,0.9 80.9,0.9 99.2,-9.4 99.2,-10.3 98.3,-11.1 80.8,-20.8 80.4,-20.8Z" fill="#000" fill-rule="evenodd"/><path d="M124.8,-28.6 123.7,-28.2 103.8,7.2 103.7,8.2 104.2,8.7 104.8,8.7 105.4,8.2 125.2,-26.9 125.4,-27.8Z" fill="#000" fill-rule="evenodd"/><path d="M149.5,-24.1 148.6,-24.1 147.3,-21.9 146.0,-23.1 143.6,-24.2 140.0,-24.2 136.6,-23.1 133.8,-20.3 131.5,-16.8 130.4,-13.4 129.3,-8.8 129.4,-4.9 130.5,-1.7 131.8,-0.4 135.4,0.9 139.5,0.9 141.8,-0.2 144.4,-2.8 145.5,-5.1 145.5,-5.8 144.6,-6.4 143.8,-5.8 142.9,-3.9 140.6,-1.7 138.9,-0.8 136.0,-0.8 134.3,-1.7 133.3,-2.6 132.3,-5.4 132.3,-9.1 133.4,-13.4 134.5,-16.4 136.6,-19.6 138.4,-21.3 140.3,-22.3 143.5,-22.3 145.1,-21.4 146.3,-20.3 147.0,-18.8 147.1,-16.2 147.8,-15.7 148.4,-15.8 149.0,-16.9 150.0,-22.9 149.9,-23.7Z" fill="#000" fill-rule="evenodd"/><path d="M158.9,-6.3 156.4,-6.3 154.9,-5.5 153.8,-4.3 153.2,-2.4 153.2,-1.4 151.6,-1.3 151.1,-0.9 151.1,-0.4 151.4,-0.0 153.2,0.2 153.2,7.7 152.7,8.6 151.6,8.8 151.1,9.2 151.1,9.7 151.6,10.1 157.4,10.1 157.9,9.7 157.7,9.0 156.8,8.8 155.9,8.1 155.9,0.2 158.1,0.1 158.7,-0.4 158.7,-0.8 158.2,-1.3 156.1,-1.3 155.9,-3.5 156.9,-5.0 157.3,-5.0 157.4,-3.4 157.9,-2.9 159.4,-2.8 159.9,-3.0 160.2,-3.4 160.1,-5.4Z" fill="#000" fill-rule="evenodd"/><path d="M164.5,-6.3 162.1,-5.3 160.7,-3.3 159.9,0.6 159.9,3.2 160.7,7.1 162.0,9.0 162.6,9.5 164.5,10.1 166.6,10.1 169.0,9.1 170.5,6.8 171.2,3.3 171.2,0.5 170.5,-3.0 169.1,-5.2 168.5,-5.7 166.6,-6.3ZM165.1,-5.0 166.1,-5.0 167.4,-4.3 167.9,-3.2 168.5,-0.2 168.5,4.0 167.9,7.0 167.4,8.1 166.1,8.8 165.0,8.8 163.9,8.2 163.2,7.0 162.6,3.8 162.6,-0.0 163.2,-3.2 163.9,-4.4Z" fill="#000" fill-rule="evenodd"/></g>
<g transform="translate(58.60,1018.70) rotate(-90)"><path d="M0.2,-10.3 0.2,-9.6 0.8,-8.9 18.4,0.9 19.1,0.9 19.6,0.6 19.6,-0.4 18.9,-0.9 2.9,-9.9 19.2,-19.1 19.7,-19.8 19.2,-20.7 18.2,-20.7 1.3,-11.2Z" fill="#000" fill-rule="evenodd"/><path d="M32.1,-24.1 31.6,-23.4 31.6,-23.1 32.1,-22.4 34.5,-22.3 34.6,-22.1 28.7,-1.4 28.3,-0.8 25.6,-0.8 25.0,-0.3 25.0,0.4 25.6,0.9 42.7,0.9 43.5,0.2 45.6,-5.1 45.5,-5.9 44.7,-6.4 43.7,-5.7 40.8,-0.8 31.5,-0.9 34.5,-11.2 39.0,-11.2 39.1,-10.9 38.2,-7.7 39.0,-6.8 39.6,-6.9 40.1,-7.6 42.2,-16.1 42.2,-16.9 41.7,-17.4 41.1,-17.4 40.6,-17.1 39.5,-13.1 35.0,-13.2 37.3,-21.6 37.7,-22.3 47.0,-22.3 47.1,-16.6 47.6,-15.8 48.2,-15.7 49.0,-16.4 50.1,-23.1 50.0,-23.7 49.2,-24.2Z" fill="#000" fill-rule="evenodd"/><path d="M54.70,-19.50L69.90,-4.30" stroke="#000" stroke-width="1.60" stroke-linecap="round" fill="none"/><path d="M54.70,-4.30L69.90,-19.50" stroke="#000" stroke-width="1.60" stroke-linecap="round" fill="none"/><path d="M89.8,-24.1 89.1,-24.2 88.4,-23.6 74.6,-1.2 74.3,-0.8 72.4,-0.8 71.9,-0.4 71.8,0.2 72.1,0.8 79.6,0.9 80.3,0.1 79.6,-0.8 76.6,-0.9 79.5,-5.7 88.1,-5.6 88.4,-0.9 85.5,-0.7 85.1,-0.3 85.1,0.4 85.8,0.9 92.9,0.9 93.5,0.4 93.5,-0.3 93.1,-0.7 91.3,-0.9 90.3,-23.3ZM87.4,-18.3 88.0,-7.7 87.8,-7.4 80.9,-7.4 80.8,-7.8Z" fill="#000" fill-rule="evenodd"/><path d="M100.2,-20.3 100.2,-19.4 100.6,-19.1 116.8,-9.9 100.7,-0.8 100.1,0.1 100.7,0.9 101.3,0.9 119.6,-9.4 119.6,-10.3 118.7,-11.1 101.2,-20.8 100.8,-20.8Z" fill="#000" fill-rule="evenodd"/><path d="M145.7,-28.6 144.6,-28.2 124.7,7.2 124.6,8.2 125.1,8.7 125.7,8.7 126.3,8.2 146.1,-26.9 146.3,-27.8Z" fill="#000" fill-rule="evenodd"/><path d="M172.5,-24.1 155.4,-24.2 154.6,-23.7 154.5,-23.1 155.0,-22.4 157.4,-22.3 157.4,-21.6 151.5,-1.1 151.2,-0.8 148.2,-0.7 147.9,-0.3 147.9,0.4 148.2,0.8 156.7,0.9 157.4,0.4 157.4,-0.3 156.7,-0.8 154.4,-0.9 157.4,-11.2 161.9,-11.2 162.0,-10.9 161.1,-7.7 161.9,-6.8 162.2,-6.8 162.9,-7.3 165.1,-16.1 165.1,-16.9 164.6,-17.4 164.0,-17.4 163.5,-17.1 162.4,-13.1 157.9,-13.2 160.5,-22.2 169.9,-22.3 170.0,-16.6 170.5,-15.8 171.1,-15.7 171.9,-16.4 173.0,-23.1 172.9,-23.7Z" fill="#000" fill-rule="evenodd"/><path d="M172.9,-1.0 172.9,-0.5 173.2,-0.1 174.4,0.1 175.0,1.0 175.0,7.6 174.5,8.5 173.4,8.7 172.9,9.1 172.9,9.6 173.4,10.0 179.2,10.0 179.7,9.6 179.5,8.9 178.6,8.7 177.7,8.0 177.7,2.1 178.4,1.0 179.9,-0.0 181.9,-0.0 182.4,0.6 182.9,2.1 182.9,7.9 182.4,8.5 180.9,9.0 180.7,9.5 181.2,10.0 187.1,10.0 187.7,9.4 187.4,8.9 186.2,8.6 185.6,7.9 185.5,2.5 186.1,1.2 186.9,0.5 187.9,-0.0 189.7,-0.0 190.1,0.4 190.7,2.0 190.7,7.9 190.4,8.5 189.0,8.9 188.7,9.6 189.2,10.0 195.1,10.0 195.6,9.6 195.4,8.9 194.0,8.5 193.5,7.7 193.5,2.6 192.9,0.7 192.0,-0.4 190.5,-1.3 187.4,-1.3 185.9,-0.4 185.0,0.6 183.7,-0.6 182.1,-1.4 179.9,-1.4 177.9,-0.3 177.6,-0.9 177.0,-1.4 173.4,-1.4Z" fill="#000" fill-rule="evenodd" transform="translate(172.80,0) scale(0.920,1) translate(-172.80,0)"/><path d="M199.8,-6.4 197.4,-5.4 196.0,-3.4 195.2,0.5 195.2,3.1 196.0,7.0 197.3,8.9 197.9,9.4 199.8,10.0 201.9,10.0 204.3,9.0 205.8,6.7 206.5,3.2 206.5,0.4 205.8,-3.1 204.4,-5.3 203.8,-5.8 201.9,-6.4ZM200.4,-5.1 201.4,-5.1 202.7,-4.4 203.2,-3.3 203.8,-0.3 203.8,3.9 203.2,6.9 202.7,8.0 201.4,8.7 200.3,8.7 199.2,8.1 198.5,6.9 197.9,3.7 197.9,-0.1 198.5,-3.3 199.2,-4.5Z" fill="#000" fill-rule="evenodd"/></g>
<g transform="translate(7.40,1404.85) rotate(-90)"><path d="M0.2,-10.3 0.2,-9.6 0.8,-8.9 18.4,0.9 19.1,0.9 19.6,0.6 19.6,-0.4 18.9,-0.9 2.9,-9.9 19.2,-19.1 19.7,-19.8 19.2,-20.7 18.2,-20.7 1.3,-11.2Z" fill="#000" fill-rule="evenodd"/><path d="M32.1,-24.1 31.6,-23.4 31.6,-23.1 32.1,-22.4 34.5,-22.3 34.6,-22.1 28.7,-1.4 28.3,-0.8 25.6,-0.8 25.0,-0.3 25.0,0.4 25.6,0.9 42.7,0.9 43.5,0.2 45.6,-5.1 45.5,-5.9 44.7,-6.4 43.7,-5.7 40.8,-0.8 31.5,-0.9 34.5,-11.2 39.0,-11.2 39.1,-10.9 38.2,-7.7 39.0,-6.8 39.6,-6.9 40.1,-7.6 42.2,-16.1 42.2,-16.9 41.7,-17.4 41.1,-17.4 40.6,-17.1 39.5,-13.1 35.0,-13.2 37.3,-21.6 37.7,-22.3 47.0,-22.3 47.1,-16.6 47.6,-15.8 48.2,-15.7 49.0,-16.4 50.1,-23.1 50.0,-23.7 49.2,-24.2Z" fill="#000" fill-rule="evenodd"/><path d="M54.70,-19.50L69.90,-4.30" stroke="#000" stroke-width="1.60" stroke-linecap="round" fill="none"/><path d="M54.70,-4.30L69.90,-19.50" stroke="#000" stroke-width="1.60" stroke-linecap="round" fill="none"/><path d="M89.8,-24.1 89.1,-24.2 88.4,-23.6 74.6,-1.2 74.3,-0.8 72.4,-0.8 71.9,-0.4 71.8,0.2 72.1,0.8 79.6,0.9 80.3,0.1 79.6,-0.8 76.6,-0.9 79.5,-5.7 88.1,-5.6 88.4,-0.9 85.5,-0.7 85.1,-0.3 85.1,0.4 85.8,0.9 92.9,0.9 93.5,0.4 93.5,-0.3 93.1,-0.7 91.3,-0.9 90.3,-23.3ZM87.4,-18.3 88.0,-7.7 87.8,-7.4 80.9,-7.4 80.8,-7.8Z" fill="#000" fill-rule="evenodd"/><path d="M100.2,-20.3 100.2,-19.4 100.6,-19.1 116.8,-9.9 100.7,-0.8 100.1,0.1 100.7,0.9 101.3,0.9 119.6,-9.4 119.6,-10.3 118.7,-11.1 101.2,-20.8 100.8,-20.8Z" fill="#000" fill-rule="evenodd"/><path d="M145.7,-28.6 144.6,-28.2 124.7,7.2 124.6,8.2 125.1,8.7 125.7,8.7 126.3,8.2 146.1,-26.9 146.3,-27.8Z" fill="#000" fill-rule="evenodd"/><path d="M172.5,-24.1 155.4,-24.2 154.6,-23.7 154.5,-23.1 155.0,-22.4 157.4,-22.3 157.4,-21.6 151.5,-1.1 151.2,-0.8 148.2,-0.7 147.9,-0.3 147.9,0.4 148.2,0.8 156.7,0.9 157.4,0.4 157.4,-0.3 156.7,-0.8 154.4,-0.9 157.4,-11.2 161.9,-11.2 162.0,-10.9 161.1,-7.7 161.9,-6.8 162.2,-6.8 162.9,-7.3 165.1,-16.1 165.1,-16.9 164.6,-17.4 164.0,-17.4 163.5,-17.1 162.4,-13.1 157.9,-13.2 160.5,-22.2 169.9,-22.3 170.0,-16.6 170.5,-15.8 171.1,-15.7 171.9,-16.4 173.0,-23.1 172.9,-23.7Z" fill="#000" fill-rule="evenodd"/><path d="M172.9,-1.0 172.9,-0.5 173.2,-0.1 174.4,0.1 175.0,1.0 175.0,7.6 174.5,8.5 173.4,8.7 172.9,9.1 172.9,9.6 173.4,10.0 179.2,10.0 179.7,9.6 179.5,8.9 178.6,8.7 177.7,8.0 177.7,2.1 178.4,1.0 179.9,-0.0 181.9,-0.0 182.4,0.6 182.9,2.1 182.9,7.9 182.4,8.5 180.9,9.0 180.7,9.5 181.2,10.0 187.1,10.0 187.7,9.4 187.4,8.9 186.2,8.6 185.6,7.9 185.5,2.5 186.1,1.2 186.9,0.5 187.9,-0.0 189.7,-0.0 190.1,0.4 190.7,2.0 190.7,7.9 190.4,8.5 189.0,8.9 188.7,9.6 189.2,10.0 195.1,10.0 195.6,9.6 195.4,8.9 194.0,8.5 193.5,7.7 193.5,2.6 192.9,0.7 192.0,-0.4 190.5,-1.3 187.4,-1.3 185.9,-0.4 185.0,0.6 183.7,-0.6 182.1,-1.4 179.9,-1.4 177.9,-0.3 177.6,-0.9 177.0,-1.4 173.4,-1.4Z" fill="#000" fill-rule="evenodd" transform="translate(172.80,0) scale(0.920,1) translate(-172.80,0)"/><path d="M199.8,-6.4 197.4,-5.4 196.0,-3.4 195.2,0.5 195.2,3.1 196.0,7.0 197.3,8.9 197.9,9.4 199.8,10.0 201.9,10.0 204.3,9.0 205.8,6.7 206.5,3.2 206.5,0.4 205.8,-3.1 204.4,-5.3 203.8,-5.8 201.9,-6.4ZM200.4,-5.1 201.4,-5.1 202.7,-4.4 203.2,-3.3 203.8,-0.3 203.8,3.9 203.2,6.9 202.7,8.0 201.4,8.7 200.3,8.7 199.2,8.1 198.5,6.9 197.9,3.7 197.9,-0.1 198.5,-3.3 199.2,-4.5Z" fill="#000" fill-rule="evenodd"/></g>
<path d="M472.7,1129.0 469.9,1131.7 468.8,1134.2 468.9,1134.7 469.4,1135.1 470.4,1134.9 471.4,1132.9 473.2,1131.9 476.5,1131.9 480.5,1132.9 480.7,1133.1 471.3,1140.2 468.8,1142.9 467.8,1144.9 467.8,1145.7 468.4,1146.2 468.9,1146.2 469.4,1145.9 470.4,1144.0 471.5,1144.0 476.0,1146.2 480.0,1146.2 482.8,1143.6 483.9,1141.4 483.9,1140.6 483.4,1140.1 482.7,1140.1 482.2,1140.6 481.4,1142.2 479.5,1143.4 476.4,1143.4 472.0,1142.1 481.3,1135.1 483.9,1132.5 485.0,1130.2 485.0,1129.6 484.5,1129.0 483.8,1129.0 482.4,1131.1 480.9,1131.1 476.4,1128.9Z" fill="#000" fill-rule="evenodd"/>
<path d="M472.7,1515.1 469.9,1517.9 468.8,1520.4 468.9,1520.9 469.4,1521.3 470.4,1521.0 471.4,1519.0 473.2,1518.0 476.5,1518.0 480.5,1519.0 480.7,1519.3 471.3,1526.4 468.8,1529.0 467.8,1531.0 467.8,1531.9 468.4,1532.4 468.9,1532.4 469.4,1532.0 470.4,1530.1 471.5,1530.1 476.0,1532.4 480.0,1532.4 482.8,1529.8 483.9,1527.5 483.9,1526.8 483.4,1526.3 482.7,1526.3 482.2,1526.8 481.4,1528.4 479.5,1529.5 476.4,1529.5 472.0,1528.3 481.3,1521.3 483.9,1518.6 485.0,1516.4 485.0,1515.8 484.5,1515.1 483.8,1515.1 482.4,1517.3 480.9,1517.3 476.4,1515.0Z" fill="#000" fill-rule="evenodd"/>
<path d="M293.4,50.6 292.7,50.5 292.0,51.1 278.2,73.5 277.9,73.9 276.0,73.9 275.5,74.3 275.4,74.9 275.7,75.5 283.2,75.6 283.9,74.8 283.2,73.9 280.2,73.8 283.1,69.0 291.7,69.1 292.0,73.8 289.1,74.0 288.7,74.4 288.7,75.1 289.4,75.6 296.5,75.6 297.1,75.1 297.1,74.4 296.7,74.0 294.9,73.8 293.9,51.4ZM291.0,56.4 291.6,67.0 291.4,67.3 284.5,67.3 284.4,66.9Z" fill="#ff3300" fill-rule="evenodd"/><path d="M281.55,45.70L292.95,45.70" stroke="#ff3300" stroke-width="3.90" stroke-linecap="round" fill="none"/><circle cx="303.00" cy="63.30" r="3.20" fill="#ff3300"/><path d="M312.4,50.6 311.9,51.3 311.9,51.6 312.4,52.3 314.8,52.4 314.9,52.6 309.0,73.3 308.6,73.9 305.9,73.9 305.3,74.4 305.3,75.1 305.9,75.6 319.9,75.6 324.3,74.5 327.0,71.8 328.1,68.4 328.1,65.8 326.9,63.1 326.4,62.8 327.6,62.3 329.3,60.5 330.4,57.0 330.3,54.3 329.3,52.3 328.8,51.8 325.1,50.5ZM311.8,73.8 314.8,63.5 323.6,63.5 324.1,64.0 325.3,66.3 325.3,67.9 324.3,70.9 322.3,72.9 319.3,73.9ZM315.3,61.5 318.0,52.4 324.9,52.4 326.6,53.4 327.4,54.9 327.4,57.1 326.5,59.8 325.5,60.8 323.8,61.6Z" fill="#ff3300" fill-rule="evenodd"/><path d="M308.35,45.70L319.95,45.70" stroke="#ff3300" stroke-width="3.90" stroke-linecap="round" fill="none"/>
<path d="M726.40,244.90L775.80,244.90" stroke="#2600dd" stroke-width="3.90" stroke-linecap="butt" fill="none"/><path d="M732.7,257.0 730.1,260.6 728.9,264.5 728.9,267.9 730.1,270.5 731.6,272.0 733.9,273.1 736.9,273.1 739.1,272.0 739.9,271.0 740.1,271.6 741.7,273.1 745.9,273.0 748.5,270.4 749.6,267.9 749.1,267.0 748.2,267.0 746.7,269.6 745.0,271.4 743.6,271.4 743.0,270.9 743.0,268.6 746.2,257.1 746.1,256.3 745.7,255.9 743.9,255.9 743.4,256.4 742.5,259.4 741.9,257.6 741.4,257.0 738.7,255.8 736.4,255.8ZM738.6,257.6 740.2,258.6 741.1,261.1 741.0,264.9 740.0,267.6 738.2,270.3 736.2,271.4 734.5,271.4 733.0,270.6 731.9,268.9 731.9,264.4 732.7,261.8 734.6,258.9 736.6,257.6Z" fill="#2600dd" fill-rule="evenodd"/><circle cx="752.30" cy="261.90" r="3.00" fill="#2600dd"/><path d="M759.7,248.0 758.9,248.5 758.9,249.4 759.7,249.9 761.7,249.9 761.8,250.1 757.7,263.4 757.7,266.8 758.9,270.5 760.4,272.0 762.7,273.1 765.7,273.1 768.7,272.1 769.4,271.6 771.7,268.3 772.8,264.9 772.8,260.8 771.7,258.5 770.2,257.0 767.9,255.9 765.3,255.8 762.8,256.9 762.8,256.3 765.0,249.4 765.0,248.6 764.3,248.0ZM767.3,257.6 768.7,258.3 769.9,260.3 769.8,264.9 768.8,267.6 767.0,270.3 765.0,271.4 763.3,271.4 761.5,270.4 760.7,267.9 760.7,263.3 761.5,260.6 763.7,258.5 765.4,257.6Z" fill="#2600dd" fill-rule="evenodd"/>
<path d="M258.3,432.7 250.0,432.6 249.3,433.1 249.3,434.0 249.7,434.4 252.0,434.5 252.2,434.9 247.0,452.2 246.0,454.1 244.2,456.0 242.5,456.0 241.0,455.2 240.0,453.6 241.9,452.0 242.2,451.4 242.0,450.9 240.5,449.4 239.8,449.4 238.2,451.0 238.2,454.0 239.8,456.6 242.0,457.7 244.9,457.7 247.2,456.6 248.8,455.0 249.9,452.7 255.2,434.6 258.3,434.4 258.8,433.7 258.8,433.4Z" fill="#ff3300" fill-rule="evenodd"/><path d="M240.95,428.00L252.35,428.00" stroke="#ff3300" stroke-width="3.90" stroke-linecap="round" fill="none"/><circle cx="260.00" cy="445.80" r="3.20" fill="#ff3300"/><path d="M269.4,432.7 268.9,433.4 268.9,433.7 269.4,434.4 271.8,434.5 271.9,434.7 266.0,455.4 265.6,456.0 262.9,456.0 262.3,456.5 262.3,457.2 262.9,457.7 276.9,457.7 281.3,456.6 284.0,453.9 285.1,450.5 285.1,447.9 283.9,445.2 283.4,444.9 284.6,444.4 286.3,442.6 287.4,439.1 287.3,436.4 286.3,434.4 285.8,433.9 282.1,432.6ZM268.8,455.9 271.8,445.6 280.6,445.6 281.1,446.1 282.3,448.4 282.3,450.0 281.3,453.0 279.3,455.0 276.3,456.0ZM272.3,443.6 275.0,434.5 281.9,434.5 283.6,435.5 284.4,437.0 284.4,439.2 283.5,441.9 282.5,442.9 280.8,443.7Z" fill="#ff3300" fill-rule="evenodd"/><path d="M265.35,428.00L276.85,428.00" stroke="#ff3300" stroke-width="3.90" stroke-linecap="round" fill="none"/>
<path d="M213.20,611.90L246.10,611.90" stroke="#2600dd" stroke-width="3.60" stroke-linecap="butt" fill="none"/><path d="M221.0,620.8 220.2,620.6 217.3,620.6 216.7,620.8 214.8,622.7 213.7,624.8 213.8,625.7 214.5,626.2 215.0,626.2 215.7,625.6 216.6,623.8 217.8,622.6 218.8,622.6 219.2,623.0 219.2,625.1 215.6,636.8 214.8,638.3 214.0,639.2 213.6,638.3 212.2,637.2 211.6,637.2 210.2,638.3 210.0,639.1 210.2,640.7 211.6,641.8 213.8,642.0 216.0,641.0 217.2,639.8 218.3,637.8 222.1,625.7 222.1,622.3 221.8,621.7ZM221.7,614.2 220.3,615.3 220.2,616.5 221.3,617.7 222.2,618.0 222.8,617.7 223.7,616.8 224.0,616.1 223.7,615.3 222.8,614.5Z" fill="#2600dd" fill-rule="evenodd"/><circle cx="226.90" cy="625.20" r="3.00" fill="#2600dd"/><path d="M233.1,614.1 232.2,614.7 232.1,615.3 232.6,616.0 233.1,616.2 234.2,616.2 234.3,616.6 231.2,626.5 231.2,630.5 232.1,633.0 233.4,634.5 235.7,635.5 238.1,635.5 240.3,634.7 241.3,634.1 243.1,631.5 244.2,628.1 244.2,625.2 243.2,623.0 241.8,621.6 240.1,620.7 237.6,620.6 236.1,621.2 236.1,620.6 237.7,615.6 237.6,614.6 236.7,614.1ZM239.2,622.6 240.3,623.1 241.2,624.5 241.2,628.1 240.6,630.0 238.9,632.6 237.3,633.5 236.1,633.5 234.7,632.6 234.1,630.7 234.1,627.2 234.8,625.0 236.6,623.2 237.9,622.6Z" fill="#2600dd" fill-rule="evenodd"/>
<path d="M730.30,634.00L771.50,634.00" stroke="#17e200" stroke-width="3.80" stroke-linecap="butt" fill="none"/><path d="M734.10,640.90C733.12,641.53 732.47,641.08 730.85,643.00C729.23,644.92 729.24,644.72 728.70,647.30C728.16,649.88 728.18,649.75 729.05,651.60C729.92,653.45 729.88,653.33 731.60,653.45C733.33,653.57 733.18,653.63 734.80,652.00C736.42,650.37 736.13,650.07 737.00,648.00C737.87,645.93 737.49,645.97 737.70,645.10C737.76,646.42 737.45,647.22 737.90,649.50C738.35,651.78 738.18,651.51 739.20,652.70C740.22,653.89 740.01,653.99 741.30,653.45C742.59,652.91 742.63,653.16 743.50,650.90C744.37,648.63 744.20,648.60 744.20,645.90C744.20,643.20 744.14,643.48 743.50,641.90C742.86,640.32 742.49,641.02 742.05,640.65" fill="none" stroke="#17e200" stroke-width="2.40" stroke-linecap="round" stroke-linejoin="round"/><circle cx="749.20" cy="644.60" r="2.30" fill="#17e200"/><path d="M751.2,643.9 751.2,644.9 751.7,645.4 752.6,645.4 753.1,644.9 753.8,643.3 755.3,641.8 756.2,641.8 756.6,642.0 756.6,644.5 754.8,649.5 754.7,651.8 754.8,652.3 756.2,653.7 758.2,654.7 760.7,654.7 762.6,653.8 763.8,652.7 764.1,653.3 765.7,654.7 768.9,654.7 771.3,652.5 772.4,650.2 772.2,649.3 771.4,648.9 770.4,649.5 769.7,651.2 768.2,652.7 767.3,652.7 766.9,652.3 766.9,650.8 769.7,641.2 769.6,640.3 768.9,639.8 767.4,639.8 766.8,640.3 764.9,646.9 763.3,650.2 761.4,652.0 760.1,652.7 759.1,652.7 757.7,651.3 757.8,649.8 759.6,644.9 759.6,641.5 758.2,639.9 754.3,639.9 752.1,642.2Z" fill="#17e200" fill-rule="evenodd"/>
<path d="M492.5,816.0 489.6,818.7 487.5,821.9 485.1,826.7 484.0,832.3 484.0,837.0 485.1,842.7 487.5,847.4 489.6,850.7 492.0,853.0 493.0,853.3 493.5,852.9 493.5,851.9 491.1,849.5 489.1,845.5 488.1,842.7 487.0,837.3 487.0,832.0 488.0,827.2 489.1,823.8 491.0,820.0 493.5,817.4 493.5,816.4 493.0,816.0Z" fill="#ff3300" fill-rule="evenodd"/><path d="M504.9,820.5 504.4,821.2 504.4,821.5 504.9,822.2 507.3,822.3 507.4,822.5 501.5,843.2 501.1,843.8 498.4,843.8 497.8,844.3 497.8,845.0 498.4,845.5 515.5,845.5 516.3,844.8 518.4,839.5 518.3,838.7 517.5,838.2 516.5,838.9 513.6,843.8 504.3,843.7 507.3,833.4 511.8,833.4 511.9,833.7 511.0,836.9 511.8,837.8 512.4,837.7 512.9,837.0 515.0,828.5 515.0,827.7 514.5,827.2 513.9,827.2 513.4,827.5 512.3,831.5 507.8,831.4 510.1,823.0 510.5,822.3 519.8,822.3 519.9,828.0 520.4,828.8 521.0,828.9 521.8,828.2 522.9,821.5 522.8,820.9 522.0,820.4Z" fill="#ff3300" fill-rule="evenodd"/><path d="M501.05,815.90L512.05,815.90" stroke="#ff3300" stroke-width="3.90" stroke-linecap="round" fill="none"/><path d="M527.80,835.00L547.40,835.00" stroke="#ff3300" stroke-width="1.60" stroke-linecap="round" fill="none"/><path d="M566.90,824.30C566.63,824.96 565.77,825.30 566.00,826.50C566.23,827.70 566.30,828.15 567.65,828.30C569.00,828.45 569.38,828.20 570.50,827.00C571.62,825.80 571.61,826.13 571.40,824.30C571.19,822.47 571.36,822.31 569.80,820.90C568.24,819.49 568.43,819.60 566.20,819.60C563.96,819.60 564.24,819.55 562.35,820.90C560.46,822.25 560.70,822.15 559.90,824.10C559.10,826.05 559.10,825.57 559.70,827.40C560.30,829.23 561.24,829.36 561.90,830.20C560.88,830.53 560.45,830.10 558.50,831.30C556.55,832.50 556.78,832.19 555.40,834.20C554.02,836.21 553.90,835.69 553.90,838.00C553.90,840.31 553.72,840.07 555.40,841.90C557.08,843.73 556.98,843.68 559.50,844.10C562.02,844.52 561.49,844.41 563.80,843.30C566.11,842.19 565.55,842.41 567.20,840.40C568.85,838.39 568.88,838.55 569.30,836.60C569.72,834.65 569.65,834.89 568.60,833.90C567.55,832.91 567.51,833.00 565.80,833.30C564.09,833.60 564.13,833.91 562.90,834.90C561.67,835.89 562.06,836.09 561.70,836.60M561.90,830.20l1.8,0.4" fill="none" stroke="#ff3300" stroke-width="1.90" stroke-linecap="round" stroke-linejoin="round"/><path d="M554.95,816.00L567.05,816.00" stroke="#ff3300" stroke-width="3.90" stroke-linecap="round" fill="none"/><path d="M575.3,816.0 574.7,816.5 574.7,817.3 577.1,819.8 579.2,824.0 580.3,827.5 581.3,832.7 581.2,837.5 580.3,841.9 579.3,845.0 577.3,849.2 574.8,851.8 574.6,852.4 575.2,853.3 575.8,853.3 578.7,850.5 580.8,847.3 583.1,842.8 584.2,837.3 584.2,832.0 583.1,826.5 580.8,822.0 578.6,818.7 576.2,816.3Z" fill="#ff3300" fill-rule="evenodd"/><path d="M593.70,828.20L608.50,843.00" stroke="#ff3300" stroke-width="1.60" stroke-linecap="round" fill="none"/><path d="M593.70,843.00L608.50,828.20" stroke="#ff3300" stroke-width="1.60" stroke-linecap="round" fill="none"/><path d="M628.0,820.5 627.3,820.4 626.6,821.0 612.8,843.4 612.5,843.8 610.6,843.8 610.1,844.2 610.0,844.8 610.3,845.4 617.8,845.5 618.5,844.7 617.8,843.8 614.8,843.7 617.7,838.9 626.3,839.0 626.6,843.7 623.7,843.9 623.3,844.3 623.3,845.0 624.0,845.5 631.1,845.5 631.7,845.0 631.7,844.3 631.3,843.9 629.5,843.7 628.5,821.3ZM625.6,826.3 626.2,836.9 626.0,837.2 619.1,837.2 619.0,836.8Z" fill="#ff3300" fill-rule="evenodd"/><path d="M616.35,815.90L627.45,815.90" stroke="#ff3300" stroke-width="3.90" stroke-linecap="round" fill="none"/>
<path d="M348.00,998.60L408.70,998.60" stroke="#2600dd" stroke-width="3.60" stroke-linecap="butt" fill="none"/><path d="M357.2,1007.7 353.4,1007.6 350.0,1008.7 349.2,1009.3 347.1,1012.4 345.9,1016.3 345.9,1019.7 347.1,1022.3 348.6,1023.8 350.9,1024.9 353.9,1024.9 356.9,1023.9 359.9,1021.2 359.9,1020.3 359.5,1019.9 358.9,1019.8 356.0,1022.3 353.4,1023.2 351.5,1023.2 350.0,1022.4 348.9,1020.7 349.0,1019.2 356.0,1017.2 359.9,1014.4 361.0,1012.3 361.0,1011.4 359.9,1009.2ZM358.5,1010.6 359.1,1011.9 358.2,1013.6 355.1,1015.6 349.2,1017.3 348.9,1017.2 348.9,1016.2 349.7,1013.6 352.1,1010.2 353.6,1009.4 356.6,1009.4 358.0,1010.1Z" fill="#2600dd" fill-rule="evenodd"/><path d="M368.30,1006.70L383.10,1021.50" stroke="#2600dd" stroke-width="1.60" stroke-linecap="round" fill="none"/><path d="M368.30,1021.50L383.10,1006.70" stroke="#2600dd" stroke-width="1.60" stroke-linecap="round" fill="none"/><path d="M394.9,1008.8 392.3,1012.4 391.1,1016.3 391.1,1019.7 392.3,1022.3 393.8,1023.8 396.1,1024.9 399.1,1024.9 401.3,1023.8 402.1,1022.8 402.3,1023.4 403.9,1024.9 408.1,1024.8 410.7,1022.2 411.8,1019.7 411.3,1018.8 410.4,1018.8 408.9,1021.4 407.2,1023.2 405.8,1023.2 405.2,1022.7 405.2,1020.4 408.4,1008.9 408.3,1008.1 407.9,1007.7 406.1,1007.7 405.6,1008.2 404.7,1011.2 404.1,1009.4 403.6,1008.8 400.9,1007.6 398.6,1007.6ZM400.8,1009.4 402.4,1010.4 403.3,1012.9 403.2,1016.7 402.2,1019.4 400.4,1022.1 398.4,1023.2 396.7,1023.2 395.2,1022.4 394.1,1020.7 394.1,1016.2 394.9,1013.6 396.8,1010.7 398.8,1009.4Z" fill="#2600dd" fill-rule="evenodd"/><path d="M415.20,1013.60L433.90,1013.60" stroke="#2600dd" stroke-width="1.60" stroke-linecap="round" fill="none"/><path d="M424.55,1004.30L424.55,1022.90" stroke="#2600dd" stroke-width="1.60" stroke-linecap="round" fill="none"/><path d="M455.00,1003.70C454.73,1004.36 453.88,1004.70 454.10,1005.90C454.33,1007.10 454.40,1007.55 455.75,1007.70C457.10,1007.85 457.48,1007.60 458.60,1006.40C459.73,1005.20 459.71,1005.53 459.50,1003.70C459.29,1001.87 459.46,1001.71 457.90,1000.30C456.34,998.89 456.54,999.00 454.30,999.00C452.06,999.00 452.34,998.95 450.45,1000.30C448.56,1001.65 448.80,1001.55 448.00,1003.50C447.20,1005.45 447.20,1004.97 447.80,1006.80C448.40,1008.63 449.34,1008.76 450.00,1009.60C448.98,1009.93 448.55,1009.50 446.60,1010.70C444.65,1011.90 444.88,1011.59 443.50,1013.60C442.12,1015.61 442.00,1015.09 442.00,1017.40C442.00,1019.71 441.82,1019.47 443.50,1021.30C445.18,1023.13 445.08,1023.08 447.60,1023.50C450.12,1023.92 449.59,1023.81 451.90,1022.70C454.21,1021.59 453.65,1021.81 455.30,1019.80C456.95,1017.79 456.98,1017.95 457.40,1016.00C457.82,1014.05 457.75,1014.29 456.70,1013.30C455.65,1012.31 455.61,1012.40 453.90,1012.70C452.19,1013.00 452.23,1013.31 451.00,1014.30C449.77,1015.29 450.16,1015.49 449.80,1016.00M450.00,1009.60l1.8,0.4" fill="none" stroke="#2600dd" stroke-width="1.90" stroke-linecap="round" stroke-linejoin="round"/><path d="M443.85,994.80L454.45,994.80" stroke="#2600dd" stroke-width="3.90" stroke-linecap="round" fill="none"/><path d="M466.40,1006.70L481.20,1021.50" stroke="#2600dd" stroke-width="1.60" stroke-linecap="round" fill="none"/><path d="M466.40,1021.50L481.20,1006.70" stroke="#2600dd" stroke-width="1.60" stroke-linecap="round" fill="none"/><path d="M501.3,999.9 500.6,999.8 499.9,1000.4 486.1,1022.8 485.8,1023.2 483.9,1023.2 483.4,1023.6 483.3,1024.2 483.6,1024.8 491.1,1024.9 491.8,1024.1 491.1,1023.2 488.1,1023.1 491.0,1018.3 499.6,1018.4 499.9,1023.1 497.0,1023.3 496.6,1023.7 496.6,1024.4 497.3,1024.9 504.4,1024.9 505.0,1024.4 505.0,1023.7 504.6,1023.3 502.8,1023.1 501.8,1000.7ZM498.9,1005.7 499.5,1016.3 499.3,1016.6 492.4,1016.6 492.3,1016.2Z" fill="#2600dd" fill-rule="evenodd"/><path d="M489.75,994.80L500.15,994.80" stroke="#2600dd" stroke-width="3.90" stroke-linecap="round" fill="none"/>
<path d="M266.40,1234.90L327.10,1234.90" stroke="#2600dd" stroke-width="3.60" stroke-linecap="butt" fill="none"/><path d="M275.6,1244.0 271.8,1243.9 268.4,1245.0 267.6,1245.6 265.5,1248.7 264.3,1252.6 264.3,1256.0 265.5,1258.6 267.0,1260.1 269.3,1261.2 272.3,1261.2 275.3,1260.2 278.3,1257.5 278.3,1256.6 277.9,1256.2 277.3,1256.1 274.4,1258.6 271.8,1259.5 269.9,1259.5 268.4,1258.7 267.3,1257.0 267.4,1255.5 274.4,1253.5 278.3,1250.7 279.4,1248.6 279.4,1247.7 278.3,1245.5ZM276.9,1246.9 277.5,1248.2 276.6,1249.9 273.5,1251.9 267.6,1253.6 267.3,1253.5 267.3,1252.5 268.1,1249.9 270.5,1246.5 272.0,1245.7 275.0,1245.7 276.4,1246.4Z" fill="#2600dd" fill-rule="evenodd"/><path d="M286.70,1243.00L301.50,1257.80" stroke="#2600dd" stroke-width="1.60" stroke-linecap="round" fill="none"/><path d="M286.70,1257.80L301.50,1243.00" stroke="#2600dd" stroke-width="1.60" stroke-linecap="round" fill="none"/><path d="M313.3,1245.1 310.7,1248.7 309.5,1252.6 309.5,1256.0 310.7,1258.6 312.2,1260.1 314.5,1261.2 317.5,1261.2 319.7,1260.1 320.5,1259.1 320.7,1259.7 322.3,1261.2 326.5,1261.1 329.1,1258.5 330.2,1256.0 329.7,1255.1 328.8,1255.1 327.3,1257.7 325.6,1259.5 324.2,1259.5 323.6,1259.0 323.6,1256.7 326.8,1245.2 326.7,1244.4 326.3,1244.0 324.5,1244.0 324.0,1244.5 323.1,1247.5 322.5,1245.7 322.0,1245.1 319.3,1243.9 317.0,1243.9ZM319.2,1245.7 320.8,1246.7 321.7,1249.2 321.6,1253.0 320.6,1255.7 318.8,1258.4 316.8,1259.5 315.1,1259.5 313.6,1258.7 312.5,1257.0 312.5,1252.5 313.3,1249.9 315.2,1247.0 317.2,1245.7Z" fill="#2600dd" fill-rule="evenodd"/><path d="M333.60,1249.90L352.30,1249.90" stroke="#2600dd" stroke-width="1.60" stroke-linecap="round" fill="none"/><path d="M342.95,1240.60L342.95,1259.20" stroke="#2600dd" stroke-width="1.60" stroke-linecap="round" fill="none"/><path d="M373.40,1240.00C373.13,1240.66 372.27,1241.00 372.50,1242.20C372.73,1243.40 372.80,1243.85 374.15,1244.00C375.50,1244.15 375.88,1243.90 377.00,1242.70C378.12,1241.50 378.11,1241.83 377.90,1240.00C377.69,1238.17 377.86,1238.01 376.30,1236.60C374.74,1235.19 374.94,1235.30 372.70,1235.30C370.46,1235.30 370.74,1235.25 368.85,1236.60C366.96,1237.95 367.19,1237.85 366.40,1239.80C365.60,1241.75 365.60,1241.27 366.20,1243.10C366.80,1244.93 367.74,1245.06 368.40,1245.90C367.38,1246.23 366.95,1245.80 365.00,1247.00C363.05,1248.20 363.28,1247.89 361.90,1249.90C360.52,1251.91 360.40,1251.39 360.40,1253.70C360.40,1256.01 360.22,1255.77 361.90,1257.60C363.58,1259.43 363.48,1259.38 366.00,1259.80C368.52,1260.22 367.99,1260.11 370.30,1259.00C372.61,1257.89 372.05,1258.11 373.70,1256.10C375.35,1254.09 375.38,1254.25 375.80,1252.30C376.22,1250.35 376.15,1250.59 375.10,1249.60C374.05,1248.61 374.01,1248.70 372.30,1249.00C370.59,1249.30 370.63,1249.61 369.40,1250.60C368.17,1251.59 368.56,1251.79 368.20,1252.30M368.40,1245.90l1.8,0.4" fill="none" stroke="#2600dd" stroke-width="1.90" stroke-linecap="round" stroke-linejoin="round"/><path d="M362.25,1231.10L372.85,1231.10" stroke="#2600dd" stroke-width="3.90" stroke-linecap="round" fill="none"/><path d="M384.80,1243.00L399.60,1257.80" stroke="#2600dd" stroke-width="1.60" stroke-linecap="round" fill="none"/><path d="M384.80,1257.80L399.60,1243.00" stroke="#2600dd" stroke-width="1.60" stroke-linecap="round" fill="none"/><path d="M419.7,1236.2 419.0,1236.1 418.3,1236.7 404.5,1259.1 404.2,1259.5 402.3,1259.5 401.8,1259.9 401.7,1260.5 402.0,1261.1 409.5,1261.2 410.2,1260.4 409.5,1259.5 406.5,1259.4 409.4,1254.6 418.0,1254.7 418.3,1259.4 415.4,1259.6 415.0,1260.0 415.0,1260.7 415.7,1261.2 422.8,1261.2 423.4,1260.7 423.4,1260.0 423.0,1259.6 421.2,1259.4 420.2,1237.0ZM417.3,1242.0 417.9,1252.6 417.7,1252.9 410.8,1252.9 410.7,1252.5Z" fill="#2600dd" fill-rule="evenodd"/><path d="M408.15,1231.10L418.55,1231.10" stroke="#2600dd" stroke-width="3.90" stroke-linecap="round" fill="none"/>
<path d="M648.90,992.40L690.00,992.40" stroke="#17e200" stroke-width="3.80" stroke-linecap="butt" fill="none"/><ellipse cx="655.90" cy="1011.90" rx="8.70" ry="7.90" fill="none" stroke="#17e200" stroke-width="2.4" transform="rotate(-14 655.90 1011.90)"/><path d="M660.10,996.30L652.10,1028.20" stroke="#17e200" stroke-width="1.90" stroke-linecap="butt" fill="none"/><path d="M675.6,995.7 674.7,996.3 674.7,997.2 675.6,997.8 677.6,997.9 673.6,1010.6 673.5,1014.6 674.6,1018.1 676.0,1019.7 678.7,1021.1 681.6,1021.1 685.1,1019.8 687.7,1016.1 688.8,1012.7 688.8,1008.6 687.7,1006.3 686.6,1005.1 683.8,1003.6 681.2,1003.4 679.0,1004.4 679.0,1003.7 681.1,997.2 681.1,996.3 680.2,995.7ZM683.2,1005.6 684.7,1006.3 685.7,1008.1 685.7,1012.2 684.8,1014.8 683.0,1017.8 681.2,1018.9 679.2,1019.1 677.6,1018.2 676.7,1015.7 676.8,1010.7 677.7,1008.3 679.6,1006.4 681.3,1005.6Z" fill="#17e200" fill-rule="evenodd"/>
<path d="M604.20,1242.00L649.30,1242.00" stroke="#17e200" stroke-width="3.80" stroke-linecap="butt" fill="none"/><ellipse cx="615.40" cy="1259.10" rx="8.70" ry="7.90" fill="none" stroke="#17e200" stroke-width="2.4" transform="rotate(-14 615.40 1259.10)"/><path d="M619.60,1243.50L611.60,1275.40" stroke="#17e200" stroke-width="1.90" stroke-linecap="butt" fill="none"/><path d="M634.6,1242.9 633.7,1243.5 633.7,1244.4 634.6,1245.0 636.6,1245.1 632.6,1257.8 632.5,1261.8 633.6,1265.3 635.0,1266.9 637.7,1268.3 640.6,1268.3 644.1,1267.0 646.7,1263.3 647.8,1259.9 647.8,1255.8 646.7,1253.5 645.6,1252.3 642.8,1250.8 640.2,1250.6 638.0,1251.6 638.0,1250.9 640.1,1244.4 640.1,1243.5 639.2,1242.9ZM642.2,1252.8 643.7,1253.5 644.7,1255.3 644.7,1259.4 643.8,1262.0 642.0,1265.0 640.2,1266.1 638.2,1266.3 636.6,1265.4 635.7,1262.9 635.8,1257.9 636.7,1255.5 638.6,1253.6 640.3,1252.8Z" fill="#17e200" fill-rule="evenodd"/>
</svg></body></html>
